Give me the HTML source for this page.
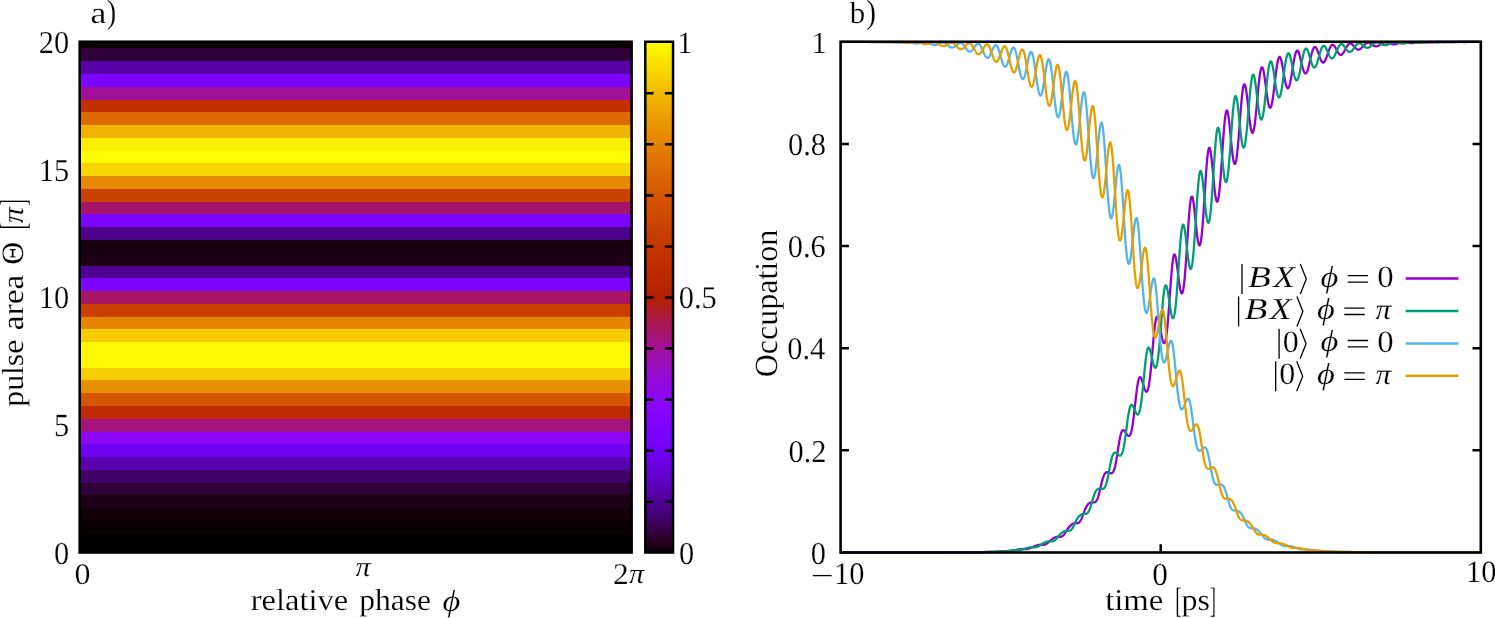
<!DOCTYPE html>
<html><head><meta charset="utf-8"><title>fig</title>
<style>html,body{margin:0;padding:0;background:#fff}svg{display:block}text{font-family:"Liberation Serif",serif;fill:#000;text-rendering:geometricPrecision;stroke:#fff;stroke-width:0.2px}</style></head><body>
<svg width="1495" height="618" viewBox="0 0 1495 618" style="will-change:transform">
<rect width="1495" height="618" fill="#fff"/>
<g shape-rendering="crispEdges">
<rect x="79.70" y="546.12" width="551.90" height="6.68" fill="#000000"/>
<rect x="79.70" y="533.35" width="551.90" height="13.07" fill="#030000"/>
<rect x="79.70" y="520.58" width="551.90" height="13.07" fill="#080001"/>
<rect x="79.70" y="507.81" width="551.90" height="13.07" fill="#110007"/>
<rect x="79.70" y="495.04" width="551.90" height="13.07" fill="#1e0016"/>
<rect x="79.70" y="482.27" width="551.90" height="13.07" fill="#2f0035"/>
<rect x="79.70" y="469.50" width="551.90" height="13.07" fill="#420069"/>
<rect x="79.70" y="456.73" width="551.90" height="13.07" fill="#5900af"/>
<rect x="79.70" y="443.97" width="551.90" height="13.07" fill="#7102f1"/>
<rect x="79.70" y="431.20" width="551.90" height="13.07" fill="#8b07f5"/>
<rect x="79.70" y="418.43" width="551.90" height="13.07" fill="#a5137f"/>
<rect x="79.70" y="405.66" width="551.90" height="13.07" fill="#be2b00"/>
<rect x="79.70" y="392.89" width="551.90" height="13.07" fill="#d55600"/>
<rect x="79.70" y="380.12" width="551.90" height="13.07" fill="#e89100"/>
<rect x="79.70" y="367.35" width="551.90" height="13.07" fill="#f6ce00"/>
<rect x="79.70" y="354.58" width="551.90" height="13.07" fill="#fef800"/>
<rect x="79.70" y="341.82" width="551.90" height="13.07" fill="#fef900"/>
<rect x="79.70" y="329.05" width="551.90" height="13.07" fill="#f6cc00"/>
<rect x="79.70" y="316.28" width="551.90" height="13.07" fill="#e58400"/>
<rect x="79.70" y="303.51" width="551.90" height="13.07" fill="#cb4000"/>
<rect x="79.70" y="290.74" width="551.90" height="13.07" fill="#a81565"/>
<rect x="79.70" y="277.97" width="551.90" height="13.07" fill="#7f04ff"/>
<rect x="79.70" y="265.20" width="551.90" height="13.07" fill="#4f0092"/>
<rect x="79.70" y="252.43" width="551.90" height="13.07" fill="#1c0014"/>
<rect x="79.70" y="239.67" width="551.90" height="13.07" fill="#18000f"/>
<rect x="79.70" y="226.90" width="551.90" height="13.07" fill="#4c0087"/>
<rect x="79.70" y="214.13" width="551.90" height="13.07" fill="#7c03fe"/>
<rect x="79.70" y="201.36" width="551.90" height="13.07" fill="#a7146c"/>
<rect x="79.70" y="188.59" width="551.90" height="13.07" fill="#cb4100"/>
<rect x="79.70" y="175.82" width="551.90" height="13.07" fill="#e68900"/>
<rect x="79.70" y="163.05" width="551.90" height="13.07" fill="#f7d500"/>
<rect x="79.70" y="150.28" width="551.90" height="13.07" fill="#fffd00"/>
<rect x="79.70" y="137.52" width="551.90" height="13.07" fill="#fcee00"/>
<rect x="79.70" y="124.75" width="551.90" height="13.07" fill="#f0b300"/>
<rect x="79.70" y="111.98" width="551.90" height="13.07" fill="#dc6a00"/>
<rect x="79.70" y="99.21" width="551.90" height="13.07" fill="#c13000"/>
<rect x="79.70" y="86.44" width="551.90" height="13.07" fill="#a11098"/>
<rect x="79.70" y="73.67" width="551.90" height="13.07" fill="#7d04fe"/>
<rect x="79.70" y="60.90" width="551.90" height="13.07" fill="#5700a9"/>
<rect x="79.70" y="48.13" width="551.90" height="13.07" fill="#300038"/>
<rect x="79.70" y="41.75" width="551.90" height="6.68" fill="#0a0002"/>
</g>
<rect x="79.7" y="41.75" width="551.9" height="510.75" fill="none" stroke="#000" stroke-width="2.6"/>
<defs><linearGradient id="cb" x1="0" y1="1" x2="0" y2="0">
<stop offset="0.000" stop-color="#000000"/>
<stop offset="0.010" stop-color="#1a0010"/>
<stop offset="0.020" stop-color="#240020"/>
<stop offset="0.030" stop-color="#2c0030"/>
<stop offset="0.040" stop-color="#33003f"/>
<stop offset="0.050" stop-color="#39004f"/>
<stop offset="0.060" stop-color="#3e005e"/>
<stop offset="0.070" stop-color="#43006d"/>
<stop offset="0.080" stop-color="#48007b"/>
<stop offset="0.090" stop-color="#4c0089"/>
<stop offset="0.100" stop-color="#510096"/>
<stop offset="0.110" stop-color="#5500a3"/>
<stop offset="0.120" stop-color="#5800af"/>
<stop offset="0.130" stop-color="#5c01ba"/>
<stop offset="0.140" stop-color="#5f01c4"/>
<stop offset="0.150" stop-color="#6301ce"/>
<stop offset="0.160" stop-color="#6601d7"/>
<stop offset="0.170" stop-color="#6901df"/>
<stop offset="0.180" stop-color="#6c01e7"/>
<stop offset="0.190" stop-color="#6f02ed"/>
<stop offset="0.200" stop-color="#7202f3"/>
<stop offset="0.210" stop-color="#7502f7"/>
<stop offset="0.220" stop-color="#7803fa"/>
<stop offset="0.230" stop-color="#7a03fd"/>
<stop offset="0.240" stop-color="#7d04fe"/>
<stop offset="0.250" stop-color="#8004ff"/>
<stop offset="0.260" stop-color="#8204fe"/>
<stop offset="0.270" stop-color="#8505fd"/>
<stop offset="0.280" stop-color="#8706fa"/>
<stop offset="0.290" stop-color="#8906f7"/>
<stop offset="0.300" stop-color="#8c07f3"/>
<stop offset="0.310" stop-color="#8e08ed"/>
<stop offset="0.320" stop-color="#9008e7"/>
<stop offset="0.330" stop-color="#9209df"/>
<stop offset="0.340" stop-color="#950ad7"/>
<stop offset="0.350" stop-color="#970bce"/>
<stop offset="0.360" stop-color="#990cc4"/>
<stop offset="0.370" stop-color="#9b0dba"/>
<stop offset="0.380" stop-color="#9d0eaf"/>
<stop offset="0.390" stop-color="#9f0fa3"/>
<stop offset="0.400" stop-color="#a11096"/>
<stop offset="0.410" stop-color="#a31289"/>
<stop offset="0.420" stop-color="#a5137b"/>
<stop offset="0.430" stop-color="#a7146d"/>
<stop offset="0.440" stop-color="#a9165e"/>
<stop offset="0.450" stop-color="#ab174f"/>
<stop offset="0.460" stop-color="#ad193f"/>
<stop offset="0.470" stop-color="#af1a30"/>
<stop offset="0.480" stop-color="#b11c20"/>
<stop offset="0.490" stop-color="#b21e10"/>
<stop offset="0.500" stop-color="#b42000"/>
<stop offset="0.510" stop-color="#b62200"/>
<stop offset="0.520" stop-color="#b82400"/>
<stop offset="0.530" stop-color="#ba2600"/>
<stop offset="0.540" stop-color="#bb2800"/>
<stop offset="0.550" stop-color="#bd2a00"/>
<stop offset="0.560" stop-color="#bf2d00"/>
<stop offset="0.570" stop-color="#c12f00"/>
<stop offset="0.580" stop-color="#c23200"/>
<stop offset="0.590" stop-color="#c43400"/>
<stop offset="0.600" stop-color="#c63700"/>
<stop offset="0.610" stop-color="#c73a00"/>
<stop offset="0.620" stop-color="#c93d00"/>
<stop offset="0.630" stop-color="#ca4000"/>
<stop offset="0.640" stop-color="#cc4300"/>
<stop offset="0.650" stop-color="#ce4600"/>
<stop offset="0.660" stop-color="#cf4900"/>
<stop offset="0.670" stop-color="#d14d00"/>
<stop offset="0.680" stop-color="#d25000"/>
<stop offset="0.690" stop-color="#d45400"/>
<stop offset="0.700" stop-color="#d55700"/>
<stop offset="0.710" stop-color="#d75b00"/>
<stop offset="0.720" stop-color="#d85f00"/>
<stop offset="0.730" stop-color="#da6300"/>
<stop offset="0.740" stop-color="#db6700"/>
<stop offset="0.750" stop-color="#dd6c00"/>
<stop offset="0.760" stop-color="#de7000"/>
<stop offset="0.770" stop-color="#e07400"/>
<stop offset="0.780" stop-color="#e17900"/>
<stop offset="0.790" stop-color="#e37e00"/>
<stop offset="0.800" stop-color="#e48300"/>
<stop offset="0.810" stop-color="#e68800"/>
<stop offset="0.820" stop-color="#e78d00"/>
<stop offset="0.830" stop-color="#e89200"/>
<stop offset="0.840" stop-color="#ea9700"/>
<stop offset="0.850" stop-color="#eb9d00"/>
<stop offset="0.860" stop-color="#eca200"/>
<stop offset="0.870" stop-color="#eea800"/>
<stop offset="0.880" stop-color="#efae00"/>
<stop offset="0.890" stop-color="#f1b400"/>
<stop offset="0.900" stop-color="#f2ba00"/>
<stop offset="0.910" stop-color="#f3c000"/>
<stop offset="0.920" stop-color="#f5c700"/>
<stop offset="0.930" stop-color="#f6cd00"/>
<stop offset="0.940" stop-color="#f7d400"/>
<stop offset="0.950" stop-color="#f9db00"/>
<stop offset="0.960" stop-color="#fae200"/>
<stop offset="0.970" stop-color="#fbe900"/>
<stop offset="0.980" stop-color="#fcf000"/>
<stop offset="0.990" stop-color="#fef700"/>
<stop offset="1.000" stop-color="#ffff00"/>
</linearGradient></defs>
<rect x="645.3" y="41.75" width="27.75" height="510.75" fill="url(#cb)" stroke="#000" stroke-width="2.5"/>
<path d="M645.3 501.82h8.2M673.05 501.82h-8.2" stroke="#000" stroke-width="2.5" fill="none"/>
<path d="M645.3 450.75h8.2M673.05 450.75h-8.2" stroke="#000" stroke-width="2.5" fill="none"/>
<path d="M645.3 399.67h8.2M673.05 399.67h-8.2" stroke="#000" stroke-width="2.5" fill="none"/>
<path d="M645.3 348.60h8.2M673.05 348.60h-8.2" stroke="#000" stroke-width="2.5" fill="none"/>
<path d="M645.3 297.52h8.2M673.05 297.52h-8.2" stroke="#000" stroke-width="2.5" fill="none"/>
<path d="M645.3 246.45h8.2M673.05 246.45h-8.2" stroke="#000" stroke-width="2.5" fill="none"/>
<path d="M645.3 195.38h8.2M673.05 195.38h-8.2" stroke="#000" stroke-width="2.5" fill="none"/>
<path d="M645.3 144.30h8.2M673.05 144.30h-8.2" stroke="#000" stroke-width="2.5" fill="none"/>
<path d="M645.3 93.22h8.2M673.05 93.22h-8.2" stroke="#000" stroke-width="2.5" fill="none"/>
<text transform="translate(54.00 563.79) scale(1.0000 1.0488)" font-size="30.4">0</text>
<text transform="translate(54.00 436.09) scale(1.0000 1.0644)" font-size="30.4">5</text>
<text transform="translate(38.80 308.41) scale(1.0000 1.0488)" font-size="30.4">10</text>
<text transform="translate(38.80 180.72) scale(1.0000 1.0539)" font-size="30.4">15</text>
<text transform="translate(38.80 53.04) scale(1.0000 1.0488)" font-size="30.4">20</text>
<text transform="translate(74.53 583.60) scale(1.0547 0.9854)" font-size="30.4">0</text>
<text transform="translate(355.60 576.13) scale(1.0000 0.9161)" font-size="30.4" font-style="italic">π</text>
<text transform="translate(612.96 583.60) scale(1.0328 0.9900)" font-size="30.4">2</text>
<text transform="translate(629.00 583.42) scale(1.0064 0.9371)" font-size="30.4" font-style="italic">π</text>
<text transform="translate(250.76 610.00) scale(1.0682 1.0000)" font-size="30.4">relative</text>
<text transform="translate(359.28 610.00) scale(1.0369 1.0000)" font-size="30.4">phase</text>
<text transform="translate(442.41 610.63) scale(1.1329 1.0109)" font-size="30.4" font-style="italic">ϕ</text>
<text transform="translate(90.50 22.80) scale(1.1833 1.0000)" font-size="30.4">a</text>
<text transform="translate(106.86 22.95) scale(0.9359 1.1018)" font-size="30.4">)</text>
<text transform="translate(677.30 52.85) scale(1.0000 1.0149)" font-size="30.4">1</text>
<text transform="translate(678.80 308.31) scale(1.0000 1.0437)" font-size="30.4">0.5</text>
<text transform="translate(679.00 563.79) scale(1.0000 1.0488)" font-size="30.4">0</text>
<text transform="translate(23.30 406.20) rotate(-90) translate(-0.52 0) scale(1.0447 1.0000)" font-size="30.4">pulse</text>
<text transform="translate(23.30 329.00) rotate(-90) translate(-1.21 0) scale(1.0998 1.0000)" font-size="30.4">area</text>
<text transform="translate(23.19 263.50) rotate(-90) translate(-1.26 0) scale(1.0462 1.0245)" font-size="30.4">Θ</text>
<text transform="translate(25.05 228.00) rotate(-90) translate(-1.58 0) scale(0.6866 1.2063)" font-size="30.4">[</text>
<text transform="translate(23.30 223.00) rotate(-90) translate(-0.21 0) scale(1.0701 1.0000)" font-size="30.4" font-style="italic">π</text>
<text transform="translate(25.05 205.00) rotate(-90) translate(-0.74 0) scale(0.6765 1.2063)" font-size="30.4">]</text>
<g fill="none" stroke-width="2.3" stroke-linejoin="round" stroke-linecap="butt">
<path d="M840.60 552.50L840.92 552.50L841.24 552.50L841.56 552.50L841.88 552.50L842.20 552.50L842.52 552.50L842.84 552.50L843.16 552.50L843.48 552.50L843.80 552.50L844.12 552.50L844.44 552.50L844.76 552.50L845.08 552.50L845.40 552.50L845.72 552.50L846.04 552.50L846.36 552.50L846.68 552.50L847.00 552.50L847.32 552.50L847.64 552.50L847.96 552.50L848.28 552.50L848.60 552.50L848.92 552.50L849.24 552.50L849.56 552.50L849.88 552.50L850.20 552.50L850.52 552.50L850.84 552.50L851.16 552.50L851.48 552.50L851.80 552.50L852.12 552.50L852.44 552.50L852.76 552.50L853.08 552.50L853.40 552.50L853.72 552.50L854.04 552.50L854.36 552.50L854.68 552.50L855.00 552.50L855.32 552.50L855.64 552.50L855.96 552.50L856.28 552.50L856.61 552.50L856.93 552.50L857.25 552.50L857.57 552.50L857.89 552.50L858.21 552.50L858.53 552.50L858.85 552.50L859.17 552.50L859.49 552.50L859.81 552.50L860.13 552.50L860.45 552.50L860.77 552.50L861.09 552.50L861.41 552.50L861.73 552.50L862.05 552.50L862.37 552.50L862.69 552.50L863.01 552.50L863.33 552.50L863.65 552.50L863.97 552.50L864.29 552.50L864.61 552.50L864.93 552.50L865.25 552.50L865.57 552.50L865.89 552.50L866.21 552.50L866.53 552.50L866.85 552.50L867.17 552.50L867.49 552.50L867.81 552.50L868.13 552.50L868.45 552.50L868.77 552.50L869.09 552.50L869.41 552.50L869.73 552.50L870.05 552.50L870.37 552.50L870.69 552.50L871.01 552.50L871.33 552.50L871.65 552.50L871.97 552.50L872.29 552.50L872.61 552.50L872.93 552.50L873.25 552.50L873.57 552.50L873.89 552.50L874.21 552.50L874.53 552.50L874.85 552.50L875.17 552.50L875.49 552.50L875.81 552.50L876.13 552.50L876.45 552.50L876.77 552.50L877.09 552.50L877.41 552.50L877.73 552.50L878.05 552.50L878.37 552.50L878.69 552.50L879.01 552.50L879.33 552.50L879.65 552.50L879.97 552.50L880.29 552.50L880.61 552.50L880.93 552.50L881.25 552.50L881.57 552.50L881.89 552.50L882.21 552.50L882.53 552.50L882.85 552.50L883.17 552.50L883.49 552.50L883.81 552.50L884.13 552.50L884.45 552.50L884.77 552.50L885.09 552.50L885.41 552.50L885.73 552.50L886.05 552.50L886.37 552.50L886.69 552.50L887.01 552.50L887.33 552.50L887.65 552.50L887.97 552.50L888.29 552.50L888.62 552.50L888.94 552.50L889.26 552.50L889.58 552.50L889.90 552.50L890.22 552.50L890.54 552.50L890.86 552.50L891.18 552.50L891.50 552.50L891.82 552.50L892.14 552.50L892.46 552.50L892.78 552.50L893.10 552.50L893.42 552.50L893.74 552.50L894.06 552.50L894.38 552.50L894.70 552.50L895.02 552.50L895.34 552.50L895.66 552.50L895.98 552.50L896.30 552.50L896.62 552.50L896.94 552.50L897.26 552.50L897.58 552.50L897.90 552.50L898.22 552.50L898.54 552.50L898.86 552.50L899.18 552.50L899.50 552.50L899.82 552.50L900.14 552.50L900.46 552.50L900.78 552.50L901.10 552.50L901.42 552.50L901.74 552.50L902.06 552.50L902.38 552.50L902.70 552.50L903.02 552.50L903.34 552.50L903.66 552.50L903.98 552.50L904.30 552.50L904.62 552.50L904.94 552.50L905.26 552.50L905.58 552.50L905.90 552.50L906.22 552.50L906.54 552.50L906.86 552.50L907.18 552.50L907.50 552.50L907.82 552.50L908.14 552.50L908.46 552.50L908.78 552.50L909.10 552.50L909.42 552.50L909.74 552.50L910.06 552.50L910.38 552.50L910.70 552.50L911.02 552.50L911.34 552.50L911.66 552.50L911.98 552.50L912.30 552.50L912.62 552.50L912.94 552.50L913.26 552.50L913.58 552.50L913.90 552.50L914.22 552.50L914.54 552.50L914.86 552.50L915.18 552.50L915.50 552.50L915.82 552.50L916.14 552.50L916.46 552.50L916.78 552.50L917.10 552.50L917.42 552.50L917.74 552.50L918.06 552.50L918.38 552.50L918.70 552.50L919.02 552.50L919.34 552.50L919.66 552.50L919.98 552.50L920.30 552.50L920.62 552.50L920.95 552.50L921.27 552.50L921.59 552.50L921.91 552.50L922.23 552.50L922.55 552.50L922.87 552.50L923.19 552.50L923.51 552.50L923.83 552.50L924.15 552.49L924.47 552.49L924.79 552.49L925.11 552.49L925.43 552.49L925.75 552.49L926.07 552.49L926.39 552.49L926.71 552.49L927.03 552.49L927.35 552.49L927.67 552.49L927.99 552.49L928.31 552.49L928.63 552.49L928.95 552.49L929.27 552.49L929.59 552.49L929.91 552.49L930.23 552.49L930.55 552.49L930.87 552.49L931.19 552.49L931.51 552.49L931.83 552.49L932.15 552.49L932.47 552.49L932.79 552.48L933.11 552.48L933.43 552.48L933.75 552.48L934.07 552.48L934.39 552.48L934.71 552.48L935.03 552.48L935.35 552.48L935.67 552.48L935.99 552.48L936.31 552.48L936.63 552.48L936.95 552.49L937.27 552.49L937.59 552.49L937.91 552.49L938.23 552.49L938.55 552.49L938.87 552.49L939.19 552.49L939.51 552.48L939.83 552.48L940.15 552.48L940.47 552.48L940.79 552.48L941.11 552.48L941.43 552.48L941.75 552.48L942.07 552.48L942.39 552.48L942.71 552.48L943.03 552.48L943.35 552.48L943.67 552.47L943.99 552.47L944.31 552.47L944.63 552.47L944.95 552.47L945.27 552.47L945.59 552.47L945.91 552.47L946.23 552.46L946.55 552.46L946.87 552.46L947.19 552.46L947.51 552.46L947.83 552.46L948.15 552.46L948.47 552.45L948.79 552.45L949.11 552.45L949.43 552.45L949.75 552.45L950.07 552.45L950.39 552.45L950.71 552.45L951.03 552.44L951.35 552.44L951.67 552.44L951.99 552.44L952.31 552.44L952.63 552.44L952.96 552.44L953.28 552.44L953.60 552.45L953.92 552.45L954.24 552.45L954.56 552.45L954.88 552.45L955.20 552.45L955.52 552.45L955.84 552.45L956.16 552.45L956.48 552.45L956.80 552.45L957.12 552.45L957.44 552.44L957.76 552.44L958.08 552.44L958.40 552.44L958.72 552.44L959.04 552.44L959.36 552.43L959.68 552.43L960.00 552.43L960.32 552.42L960.64 552.42L960.96 552.42L961.28 552.41L961.60 552.41L961.92 552.40L962.24 552.40L962.56 552.40L962.88 552.39L963.20 552.39L963.52 552.38L963.84 552.38L964.16 552.38L964.48 552.37L964.80 552.37L965.12 552.36L965.44 552.36L965.76 552.35L966.08 552.35L966.40 552.34L966.72 552.34L967.04 552.34L967.36 552.33L967.68 552.33L968.00 552.33L968.32 552.32L968.64 552.32L968.96 552.32L969.28 552.32L969.60 552.32L969.92 552.32L970.24 552.32L970.56 552.32L970.88 552.32L971.20 552.32L971.52 552.32L971.84 552.33L972.16 552.33L972.48 552.33L972.80 552.33L973.12 552.33L973.44 552.33L973.76 552.33L974.08 552.33L974.40 552.33L974.72 552.32L975.04 552.32L975.36 552.32L975.68 552.31L976.00 552.31L976.32 552.30L976.64 552.29L976.96 552.28L977.28 552.28L977.60 552.27L977.92 552.26L978.24 552.25L978.56 552.24L978.88 552.23L979.20 552.22L979.52 552.20L979.84 552.19L980.16 552.18L980.48 552.17L980.80 552.16L981.12 552.15L981.44 552.13L981.76 552.12L982.08 552.11L982.40 552.10L982.72 552.08L983.04 552.07L983.36 552.06L983.68 552.05L984.00 552.04L984.32 552.03L984.64 552.02L984.97 552.01L985.29 552.00L985.61 551.99L985.93 551.98L986.25 551.98L986.57 551.97L986.89 551.97L987.21 551.97L987.53 551.97L987.85 551.97L988.17 551.97L988.49 551.97L988.81 551.98L989.13 551.98L989.45 551.98L989.77 551.99L990.09 551.99L990.41 551.99L990.73 551.99L991.05 551.99L991.37 551.99L991.69 551.99L992.01 551.98L992.33 551.98L992.65 551.97L992.97 551.96L993.29 551.94L993.61 551.93L993.93 551.91L994.25 551.89L994.57 551.87L994.89 551.85L995.21 551.82L995.53 551.80L995.85 551.77L996.17 551.74L996.49 551.71L996.81 551.68L997.13 551.66L997.45 551.63L997.77 551.60L998.09 551.57L998.41 551.54L998.73 551.51L999.05 551.48L999.37 551.45L999.69 551.41L1000.01 551.38L1000.33 551.35L1000.65 551.32L1000.97 551.30L1001.29 551.27L1001.61 551.24L1001.93 551.21L1002.25 551.19L1002.57 551.17L1002.89 551.15L1003.21 551.13L1003.53 551.11L1003.85 551.10L1004.17 551.09L1004.49 551.08L1004.81 551.08L1005.13 551.08L1005.45 551.08L1005.77 551.08L1006.09 551.09L1006.41 551.09L1006.73 551.10L1007.05 551.11L1007.37 551.11L1007.69 551.12L1008.01 551.12L1008.33 551.12L1008.65 551.12L1008.97 551.12L1009.29 551.11L1009.61 551.09L1009.93 551.08L1010.25 551.05L1010.57 551.02L1010.89 550.99L1011.21 550.95L1011.53 550.91L1011.85 550.86L1012.17 550.81L1012.49 550.75L1012.81 550.69L1013.13 550.63L1013.45 550.56L1013.77 550.50L1014.09 550.43L1014.41 550.36L1014.73 550.29L1015.05 550.23L1015.37 550.16L1015.69 550.09L1016.01 550.02L1016.33 549.95L1016.65 549.88L1016.98 549.81L1017.30 549.75L1017.62 549.68L1017.94 549.61L1018.26 549.55L1018.58 549.49L1018.90 549.43L1019.22 549.37L1019.54 549.31L1019.86 549.26L1020.18 549.21L1020.50 549.17L1020.82 549.13L1021.14 549.10L1021.46 549.07L1021.78 549.05L1022.10 549.03L1022.42 549.03L1022.74 549.02L1023.06 549.02L1023.38 549.03L1023.70 549.04L1024.02 549.05L1024.34 549.06L1024.66 549.07L1024.98 549.08L1025.30 549.09L1025.62 549.10L1025.94 549.10L1026.26 549.09L1026.58 549.07L1026.90 549.04L1027.22 549.01L1027.54 548.96L1027.86 548.90L1028.18 548.84L1028.50 548.76L1028.82 548.67L1029.14 548.57L1029.46 548.46L1029.78 548.34L1030.10 548.21L1030.42 548.08L1030.74 547.95L1031.06 547.80L1031.38 547.66L1031.70 547.52L1032.02 547.37L1032.34 547.22L1032.66 547.08L1032.98 546.93L1033.30 546.79L1033.62 546.65L1033.94 546.51L1034.26 546.37L1034.58 546.24L1034.90 546.10L1035.22 545.97L1035.54 545.85L1035.86 545.73L1036.18 545.61L1036.50 545.49L1036.82 545.39L1037.14 545.28L1037.46 545.19L1037.78 545.10L1038.10 545.02L1038.42 544.96L1038.74 544.90L1039.06 544.85L1039.38 544.81L1039.70 544.78L1040.02 544.76L1040.34 544.76L1040.66 544.76L1040.98 544.76L1041.30 544.78L1041.62 544.79L1041.94 544.81L1042.26 544.83L1042.58 544.84L1042.90 544.84L1043.22 544.84L1043.54 544.82L1043.86 544.79L1044.18 544.74L1044.50 544.67L1044.82 544.58L1045.14 544.48L1045.46 544.35L1045.78 544.20L1046.10 544.02L1046.42 543.83L1046.74 543.62L1047.06 543.39L1047.38 543.15L1047.70 542.89L1048.02 542.62L1048.34 542.34L1048.66 542.06L1048.99 541.78L1049.31 541.49L1049.63 541.21L1049.95 540.92L1050.27 540.65L1050.59 540.37L1050.91 540.11L1051.23 539.85L1051.55 539.60L1051.87 539.35L1052.19 539.12L1052.51 538.89L1052.83 538.67L1053.15 538.46L1053.47 538.26L1053.79 538.07L1054.11 537.89L1054.43 537.72L1054.75 537.56L1055.07 537.41L1055.39 537.28L1055.71 537.16L1056.03 537.06L1056.35 536.97L1056.67 536.90L1056.99 536.84L1057.31 536.80L1057.63 536.78L1057.95 536.77L1058.27 536.77L1058.59 536.77L1058.91 536.78L1059.23 536.80L1059.55 536.81L1059.87 536.82L1060.19 536.81L1060.51 536.79L1060.83 536.75L1061.15 536.68L1061.47 536.59L1061.79 536.46L1062.11 536.30L1062.43 536.11L1062.75 535.87L1063.07 535.60L1063.39 535.29L1063.71 534.94L1064.03 534.55L1064.35 534.14L1064.67 533.69L1064.99 533.23L1065.31 532.74L1065.63 532.23L1065.95 531.72L1066.27 531.21L1066.59 530.69L1066.91 530.18L1067.23 529.67L1067.55 529.18L1067.87 528.70L1068.19 528.24L1068.51 527.80L1068.83 527.38L1069.15 526.98L1069.47 526.60L1069.79 526.25L1070.11 525.91L1070.43 525.59L1070.75 525.30L1071.07 525.02L1071.39 524.76L1071.71 524.53L1072.03 524.31L1072.35 524.11L1072.67 523.93L1072.99 523.77L1073.31 523.64L1073.63 523.52L1073.95 523.42L1074.27 523.35L1074.59 523.29L1074.91 523.25L1075.23 523.23L1075.55 523.22L1075.87 523.22L1076.19 523.22L1076.51 523.22L1076.83 523.22L1077.15 523.20L1077.47 523.16L1077.79 523.10L1078.11 523.01L1078.43 522.87L1078.75 522.69L1079.07 522.46L1079.39 522.17L1079.71 521.82L1080.03 521.41L1080.35 520.94L1080.67 520.40L1081.00 519.80L1081.32 519.15L1081.64 518.44L1081.96 517.68L1082.28 516.88L1082.60 516.05L1082.92 515.19L1083.24 514.32L1083.56 513.45L1083.88 512.57L1084.20 511.71L1084.52 510.88L1084.84 510.06L1085.16 509.29L1085.48 508.55L1085.80 507.85L1086.12 507.20L1086.44 506.60L1086.76 506.05L1087.08 505.54L1087.40 505.08L1087.72 504.66L1088.04 504.29L1088.36 503.96L1088.68 503.67L1089.00 503.41L1089.32 503.19L1089.64 503.00L1089.96 502.83L1090.28 502.70L1090.60 502.59L1090.92 502.51L1091.24 502.45L1091.56 502.41L1091.88 502.38L1092.20 502.38L1092.52 502.38L1092.84 502.39L1093.16 502.40L1093.48 502.41L1093.80 502.40L1094.12 502.37L1094.44 502.32L1094.76 502.23L1095.08 502.09L1095.40 501.90L1095.72 501.65L1096.04 501.32L1096.36 500.91L1096.68 500.42L1097.00 499.83L1097.32 499.15L1097.64 498.36L1097.96 497.49L1098.28 496.51L1098.60 495.45L1098.92 494.30L1099.24 493.08L1099.56 491.80L1099.88 490.47L1100.20 489.11L1100.52 487.72L1100.84 486.33L1101.16 484.95L1101.48 483.59L1101.80 482.28L1102.12 481.02L1102.44 479.83L1102.76 478.71L1103.08 477.68L1103.40 476.73L1103.72 475.88L1104.04 475.13L1104.36 474.47L1104.68 473.90L1105.00 473.43L1105.32 473.04L1105.64 472.73L1105.96 472.49L1106.28 472.32L1106.60 472.21L1106.92 472.15L1107.24 472.14L1107.56 472.17L1107.88 472.23L1108.20 472.32L1108.52 472.43L1108.84 472.55L1109.16 472.69L1109.48 472.82L1109.80 472.95L1110.12 473.07L1110.44 473.18L1110.76 473.25L1111.08 473.28L1111.40 473.27L1111.72 473.20L1112.04 473.05L1112.36 472.83L1112.68 472.52L1113.01 472.10L1113.33 471.57L1113.65 470.91L1113.97 470.13L1114.29 469.21L1114.61 468.15L1114.93 466.94L1115.25 465.59L1115.57 464.11L1115.89 462.49L1116.21 460.76L1116.53 458.92L1116.85 456.99L1117.17 454.99L1117.49 452.94L1117.81 450.86L1118.13 448.78L1118.45 446.72L1118.77 444.71L1119.09 442.77L1119.41 440.91L1119.73 439.17L1120.05 437.56L1120.37 436.09L1120.69 434.78L1121.01 433.63L1121.33 432.65L1121.65 431.83L1121.97 431.18L1122.29 430.69L1122.61 430.36L1122.93 430.17L1123.25 430.11L1123.57 430.16L1123.89 430.33L1124.21 430.58L1124.53 430.91L1124.85 431.30L1125.17 431.74L1125.49 432.21L1125.81 432.70L1126.13 433.20L1126.45 433.69L1126.77 434.16L1127.09 434.60L1127.41 435.00L1127.73 435.34L1128.05 435.62L1128.37 435.81L1128.69 435.91L1129.01 435.90L1129.33 435.77L1129.65 435.51L1129.97 435.09L1130.29 434.52L1130.61 433.78L1130.93 432.86L1131.25 431.74L1131.57 430.43L1131.89 428.93L1132.21 427.22L1132.53 425.31L1132.85 423.22L1133.17 420.95L1133.49 418.51L1133.81 415.93L1134.13 413.22L1134.45 410.42L1134.77 407.55L1135.09 404.64L1135.41 401.73L1135.73 398.85L1136.05 396.04L1136.37 393.33L1136.69 390.75L1137.01 388.34L1137.33 386.12L1137.65 384.12L1137.97 382.35L1138.29 380.83L1138.61 379.57L1138.93 378.57L1139.25 377.83L1139.57 377.35L1139.89 377.11L1140.21 377.10L1140.53 377.31L1140.85 377.72L1141.17 378.29L1141.49 379.02L1141.81 379.87L1142.13 380.82L1142.45 381.84L1142.77 382.92L1143.09 384.02L1143.41 385.12L1143.73 386.20L1144.05 387.24L1144.37 388.22L1144.69 389.11L1145.02 389.91L1145.34 390.58L1145.66 391.12L1145.98 391.50L1146.30 391.71L1146.62 391.73L1146.94 391.54L1147.26 391.14L1147.58 390.51L1147.90 389.63L1148.22 388.51L1148.54 387.12L1148.86 385.47L1149.18 383.55L1149.50 381.36L1149.82 378.91L1150.14 376.22L1150.46 373.29L1150.78 370.14L1151.10 366.80L1151.42 363.30L1151.74 359.67L1152.06 355.95L1152.38 352.17L1152.70 348.39L1153.02 344.64L1153.34 340.97L1153.66 337.43L1153.98 334.06L1154.30 330.90L1154.62 328.00L1154.94 325.38L1155.26 323.07L1155.58 321.10L1155.90 319.49L1156.22 318.23L1156.54 317.35L1156.86 316.82L1157.18 316.65L1157.50 316.81L1157.82 317.29L1158.14 318.05L1158.46 319.08L1158.78 320.33L1159.10 321.77L1159.42 323.37L1159.74 325.09L1160.06 326.90L1160.38 328.75L1160.70 330.61L1161.02 332.45L1161.34 334.23L1161.66 335.93L1161.98 337.51L1162.30 338.95L1162.62 340.22L1162.94 341.29L1163.26 342.15L1163.58 342.77L1163.90 343.13L1164.22 343.21L1164.54 343.00L1164.86 342.49L1165.18 341.65L1165.50 340.49L1165.82 338.99L1166.14 337.16L1166.46 334.99L1166.78 332.48L1167.10 329.66L1167.42 326.52L1167.74 323.08L1168.06 319.38L1168.38 315.44L1168.70 311.29L1169.02 306.97L1169.34 302.53L1169.66 298.01L1169.98 293.47L1170.30 288.95L1170.62 284.51L1170.94 280.21L1171.26 276.11L1171.58 272.24L1171.90 268.66L1172.22 265.42L1172.54 262.55L1172.86 260.09L1173.18 258.05L1173.50 256.46L1173.82 255.33L1174.14 254.65L1174.46 254.42L1174.78 254.63L1175.10 255.25L1175.42 256.25L1175.74 257.60L1176.06 259.27L1176.38 261.21L1176.70 263.37L1177.03 265.72L1177.35 268.20L1177.67 270.76L1177.99 273.37L1178.31 275.97L1178.63 278.52L1178.95 280.99L1179.27 283.32L1179.59 285.49L1179.91 287.45L1180.23 289.18L1180.55 290.65L1180.87 291.82L1181.19 292.69L1181.51 293.22L1181.83 293.39L1182.15 293.20L1182.47 292.62L1182.79 291.65L1183.11 290.29L1183.43 288.53L1183.75 286.37L1184.07 283.82L1184.39 280.89L1184.71 277.59L1185.03 273.96L1185.35 270.00L1185.67 265.76L1185.99 261.28L1186.31 256.58L1186.63 251.73L1186.95 246.77L1187.27 241.76L1187.59 236.75L1187.91 231.80L1188.23 226.98L1188.55 222.34L1188.87 217.95L1189.19 213.85L1189.51 210.10L1189.83 206.74L1190.15 203.82L1190.47 201.37L1190.79 199.40L1191.11 197.95L1191.43 197.00L1191.75 196.57L1192.07 196.65L1192.39 197.21L1192.71 198.22L1193.03 199.67L1193.35 201.50L1193.67 203.68L1193.99 206.15L1194.31 208.87L1194.63 211.78L1194.95 214.83L1195.27 217.97L1195.59 221.14L1195.91 224.29L1196.23 227.37L1196.55 230.34L1196.87 233.14L1197.19 235.74L1197.51 238.10L1197.83 240.18L1198.15 241.94L1198.47 243.37L1198.79 244.44L1199.11 245.12L1199.43 245.40L1199.75 245.26L1200.07 244.69L1200.39 243.69L1200.71 242.25L1201.03 240.38L1201.35 238.09L1201.67 235.38L1201.99 232.27L1202.31 228.79L1202.63 224.96L1202.95 220.81L1203.27 216.38L1203.59 211.71L1203.91 206.86L1204.23 201.86L1204.55 196.77L1204.87 191.66L1205.19 186.58L1205.51 181.59L1205.83 176.76L1206.15 172.13L1206.47 167.78L1206.79 163.75L1207.11 160.10L1207.43 156.86L1207.75 154.08L1208.07 151.79L1208.39 150.00L1208.71 148.74L1209.04 148.01L1209.36 147.80L1209.68 148.10L1210.00 148.90L1210.32 150.17L1210.64 151.87L1210.96 153.96L1211.28 156.40L1211.60 159.14L1211.92 162.12L1212.24 165.30L1212.56 168.62L1212.88 172.01L1213.20 175.43L1213.52 178.83L1213.84 182.14L1214.16 185.33L1214.48 188.34L1214.80 191.14L1215.12 193.67L1215.44 195.92L1215.76 197.83L1216.08 199.39L1216.40 200.57L1216.72 201.35L1217.04 201.72L1217.36 201.65L1217.68 201.16L1218.00 200.22L1218.32 198.85L1218.64 197.05L1218.96 194.82L1219.28 192.19L1219.60 189.18L1219.92 185.81L1220.24 182.10L1220.56 178.11L1220.88 173.85L1221.20 169.38L1221.52 164.75L1221.84 160.00L1222.16 155.18L1222.48 150.36L1222.80 145.59L1223.12 140.92L1223.44 136.42L1223.76 132.14L1224.08 128.12L1224.40 124.43L1224.72 121.10L1225.04 118.18L1225.36 115.69L1225.68 113.67L1226.00 112.13L1226.32 111.08L1226.64 110.53L1226.96 110.48L1227.28 110.91L1227.60 111.80L1227.92 113.13L1228.24 114.87L1228.56 116.97L1228.88 119.40L1229.20 122.11L1229.52 125.05L1229.84 128.16L1230.16 131.41L1230.48 134.72L1230.80 138.06L1231.12 141.38L1231.44 144.61L1231.76 147.72L1232.08 150.66L1232.40 153.40L1232.72 155.88L1233.04 158.08L1233.36 159.97L1233.68 161.52L1234.00 162.72L1234.32 163.53L1234.64 163.95L1234.96 163.97L1235.28 163.58L1235.60 162.78L1235.92 161.58L1236.24 159.98L1236.56 157.99L1236.88 155.64L1237.20 152.94L1237.52 149.92L1237.84 146.61L1238.16 143.04L1238.48 139.25L1238.80 135.28L1239.12 131.17L1239.44 126.97L1239.76 122.72L1240.08 118.49L1240.40 114.31L1240.72 110.23L1241.05 106.31L1241.37 102.60L1241.69 99.13L1242.01 95.95L1242.33 93.10L1242.65 90.61L1242.97 88.50L1243.29 86.80L1243.61 85.53L1243.93 84.69L1244.25 84.29L1244.57 84.31L1244.89 84.76L1245.21 85.61L1245.53 86.84L1245.85 88.43L1246.17 90.33L1246.49 92.52L1246.81 94.95L1247.13 97.59L1247.45 100.38L1247.77 103.28L1248.09 106.25L1248.41 109.24L1248.73 112.21L1249.05 115.11L1249.37 117.90L1249.69 120.54L1250.01 123.00L1250.33 125.24L1250.65 127.23L1250.97 128.95L1251.29 130.38L1251.61 131.48L1251.93 132.26L1252.25 132.69L1252.57 132.77L1252.89 132.50L1253.21 131.88L1253.53 130.90L1253.85 129.59L1254.17 127.94L1254.49 125.98L1254.81 123.73L1255.13 121.21L1255.45 118.45L1255.77 115.47L1256.09 112.31L1256.41 109.01L1256.73 105.60L1257.05 102.12L1257.37 98.61L1257.69 95.11L1258.01 91.67L1258.33 88.32L1258.65 85.11L1258.97 82.06L1259.29 79.23L1259.61 76.64L1259.93 74.32L1260.25 72.30L1260.57 70.60L1260.89 69.23L1261.21 68.21L1261.53 67.55L1261.85 67.24L1262.17 67.28L1262.49 67.66L1262.81 68.38L1263.13 69.40L1263.45 70.72L1263.77 72.29L1264.09 74.10L1264.41 76.11L1264.73 78.28L1265.05 80.59L1265.37 82.99L1265.69 85.45L1266.01 87.92L1266.33 90.38L1266.65 92.79L1266.97 95.11L1267.29 97.32L1267.61 99.37L1267.93 101.25L1268.25 102.93L1268.57 104.38L1268.89 105.60L1269.21 106.55L1269.53 107.24L1269.85 107.64L1270.17 107.77L1270.49 107.60L1270.81 107.15L1271.13 106.41L1271.45 105.40L1271.77 104.12L1272.09 102.60L1272.41 100.84L1272.74 98.86L1273.06 96.70L1273.38 94.37L1273.70 91.89L1274.02 89.31L1274.34 86.64L1274.66 83.92L1274.98 81.18L1275.30 78.45L1275.62 75.77L1275.94 73.17L1276.26 70.67L1276.58 68.31L1276.90 66.11L1277.22 64.10L1277.54 62.31L1277.86 60.74L1278.18 59.42L1278.50 58.36L1278.82 57.56L1279.14 57.04L1279.46 56.79L1279.78 56.81L1280.10 57.10L1280.42 57.63L1280.74 58.41L1281.06 59.41L1281.38 60.61L1281.70 61.99L1282.02 63.53L1282.34 65.20L1282.66 66.97L1282.98 68.82L1283.30 70.71L1283.62 72.63L1283.94 74.53L1284.26 76.40L1284.58 78.20L1284.90 79.92L1285.22 81.52L1285.54 82.99L1285.86 84.31L1286.18 85.46L1286.50 86.43L1286.82 87.20L1287.14 87.77L1287.46 88.12L1287.78 88.25L1288.10 88.17L1288.42 87.86L1288.74 87.34L1289.06 86.61L1289.38 85.69L1289.70 84.57L1290.02 83.27L1290.34 81.82L1290.66 80.22L1290.98 78.49L1291.30 76.66L1291.62 74.75L1291.94 72.77L1292.26 70.76L1292.58 68.74L1292.90 66.72L1293.22 64.74L1293.54 62.82L1293.86 60.97L1294.18 59.23L1294.50 57.60L1294.82 56.12L1295.14 54.79L1295.46 53.62L1295.78 52.64L1296.10 51.84L1296.42 51.24L1296.74 50.83L1297.06 50.63L1297.38 50.62L1297.70 50.80L1298.02 51.16L1298.34 51.70L1298.66 52.41L1298.98 53.26L1299.30 54.24L1299.62 55.34L1299.94 56.53L1300.26 57.81L1300.58 59.14L1300.90 60.51L1301.22 61.89L1301.54 63.28L1301.86 64.63L1302.18 65.95L1302.50 67.20L1302.82 68.38L1303.14 69.46L1303.46 70.44L1303.78 71.29L1304.10 72.02L1304.42 72.60L1304.74 73.04L1305.07 73.32L1305.39 73.44L1305.71 73.41L1306.03 73.22L1306.35 72.88L1306.67 72.39L1306.99 71.75L1307.31 70.98L1307.63 70.08L1307.95 69.06L1308.27 67.94L1308.59 66.74L1308.91 65.45L1309.23 64.11L1309.55 62.73L1309.87 61.31L1310.19 59.89L1310.51 58.48L1310.83 57.08L1311.15 55.73L1311.47 54.43L1311.79 53.20L1312.11 52.06L1312.43 51.01L1312.75 50.06L1313.07 49.23L1313.39 48.53L1313.71 47.95L1314.03 47.51L1314.35 47.20L1314.67 47.03L1314.99 46.99L1315.31 47.09L1315.63 47.31L1315.95 47.66L1316.27 48.12L1316.59 48.68L1316.91 49.33L1317.23 50.07L1317.55 50.87L1317.87 51.73L1318.19 52.63L1318.51 53.56L1318.83 54.50L1319.15 55.44L1319.47 56.37L1319.79 57.28L1320.11 58.14L1320.43 58.95L1320.75 59.70L1321.07 60.38L1321.39 60.98L1321.71 61.49L1322.03 61.91L1322.35 62.22L1322.67 62.43L1322.99 62.54L1323.31 62.54L1323.63 62.43L1323.95 62.22L1324.27 61.90L1324.59 61.49L1324.91 60.98L1325.23 60.39L1325.55 59.72L1325.87 58.98L1326.19 58.18L1326.51 57.33L1326.83 56.44L1327.15 55.52L1327.47 54.57L1327.79 53.63L1328.11 52.68L1328.43 51.75L1328.75 50.84L1329.07 49.97L1329.39 49.15L1329.71 48.38L1330.03 47.67L1330.35 47.02L1330.67 46.46L1330.99 45.97L1331.31 45.57L1331.63 45.26L1331.95 45.04L1332.27 44.90L1332.59 44.86L1332.91 44.90L1333.23 45.02L1333.55 45.22L1333.87 45.50L1334.19 45.85L1334.51 46.25L1334.83 46.72L1335.15 47.22L1335.47 47.77L1335.79 48.34L1336.11 48.94L1336.43 49.55L1336.76 50.15L1337.08 50.75L1337.40 51.34L1337.72 51.90L1338.04 52.43L1338.36 52.92L1338.68 53.37L1339.00 53.76L1339.32 54.10L1339.64 54.38L1339.96 54.60L1340.28 54.74L1340.60 54.83L1340.92 54.84L1341.24 54.78L1341.56 54.66L1341.88 54.47L1342.20 54.21L1342.52 53.90L1342.84 53.53L1343.16 53.12L1343.48 52.65L1343.80 52.15L1344.12 51.61L1344.44 51.05L1344.76 50.47L1345.08 49.87L1345.40 49.27L1345.72 48.67L1346.04 48.08L1346.36 47.50L1346.68 46.94L1347.00 46.42L1347.32 45.92L1347.64 45.46L1347.96 45.05L1348.28 44.68L1348.60 44.37L1348.92 44.10L1349.24 43.89L1349.56 43.73L1349.88 43.63L1350.20 43.59L1350.52 43.60L1350.84 43.66L1351.16 43.77L1351.48 43.93L1351.80 44.13L1352.12 44.37L1352.44 44.64L1352.76 44.94L1353.08 45.27L1353.40 45.62L1353.72 45.98L1354.04 46.35L1354.36 46.72L1354.68 47.09L1355.00 47.44L1355.32 47.79L1355.64 48.12L1355.96 48.42L1356.28 48.70L1356.60 48.95L1356.92 49.16L1357.24 49.34L1357.56 49.48L1357.88 49.57L1358.20 49.63L1358.52 49.65L1358.84 49.62L1359.16 49.55L1359.48 49.44L1359.80 49.30L1360.12 49.12L1360.44 48.90L1360.76 48.65L1361.08 48.37L1361.40 48.07L1361.72 47.75L1362.04 47.41L1362.36 47.06L1362.68 46.70L1363.00 46.34L1363.32 45.98L1363.64 45.62L1363.96 45.27L1364.28 44.93L1364.60 44.61L1364.92 44.31L1365.24 44.03L1365.56 43.77L1365.88 43.55L1366.20 43.35L1366.52 43.18L1366.84 43.04L1367.16 42.94L1367.48 42.87L1367.80 42.83L1368.12 42.83L1368.44 42.85L1368.76 42.91L1369.09 42.99L1369.41 43.10L1369.73 43.23L1370.05 43.39L1370.37 43.56L1370.69 43.75L1371.01 43.94L1371.33 44.15L1371.65 44.36L1371.97 44.58L1372.29 44.79L1372.61 45.00L1372.93 45.20L1373.25 45.39L1373.57 45.57L1373.89 45.74L1374.21 45.88L1374.53 46.01L1374.85 46.12L1375.17 46.20L1375.49 46.26L1375.81 46.30L1376.13 46.31L1376.45 46.30L1376.77 46.27L1377.09 46.21L1377.41 46.13L1377.73 46.03L1378.05 45.91L1378.37 45.77L1378.69 45.61L1379.01 45.44L1379.33 45.26L1379.65 45.06L1379.97 44.86L1380.29 44.66L1380.61 44.45L1380.93 44.24L1381.25 44.04L1381.57 43.83L1381.89 43.64L1382.21 43.45L1382.53 43.28L1382.85 43.11L1383.17 42.96L1383.49 42.83L1383.81 42.71L1384.13 42.61L1384.45 42.53L1384.77 42.46L1385.09 42.42L1385.41 42.39L1385.73 42.38L1386.05 42.39L1386.37 42.41L1386.69 42.45L1387.01 42.51L1387.33 42.58L1387.65 42.66L1387.97 42.75L1388.29 42.85L1388.61 42.96L1388.93 43.07L1389.25 43.19L1389.57 43.31L1389.89 43.42L1390.21 43.54L1390.53 43.65L1390.85 43.76L1391.17 43.86L1391.49 43.95L1391.81 44.03L1392.13 44.10L1392.45 44.16L1392.77 44.21L1393.09 44.25L1393.41 44.27L1393.73 44.28L1394.05 44.28L1394.37 44.26L1394.69 44.23L1395.01 44.19L1395.33 44.14L1395.65 44.07L1395.97 44.00L1396.29 43.91L1396.61 43.82L1396.93 43.72L1397.25 43.62L1397.57 43.51L1397.89 43.40L1398.21 43.28L1398.53 43.17L1398.85 43.06L1399.17 42.95L1399.49 42.84L1399.81 42.74L1400.13 42.64L1400.45 42.55L1400.78 42.46L1401.10 42.39L1401.42 42.32L1401.74 42.26L1402.06 42.22L1402.38 42.18L1402.70 42.15L1403.02 42.13L1403.34 42.13L1403.66 42.13L1403.98 42.14L1404.30 42.16L1404.62 42.18L1404.94 42.22L1405.26 42.26L1405.58 42.30L1405.90 42.36L1406.22 42.41L1406.54 42.47L1406.86 42.53L1407.18 42.59L1407.50 42.65L1407.82 42.71L1408.14 42.77L1408.46 42.83L1408.78 42.88L1409.10 42.93L1409.42 42.98L1409.74 43.01L1410.06 43.05L1410.38 43.07L1410.70 43.09L1411.02 43.11L1411.34 43.11L1411.66 43.11L1411.98 43.11L1412.30 43.09L1412.62 43.07L1412.94 43.04L1413.26 43.01L1413.58 42.97L1413.90 42.93L1414.22 42.88L1414.54 42.83L1414.86 42.78L1415.18 42.72L1415.50 42.66L1415.82 42.61L1416.14 42.55L1416.46 42.49L1416.78 42.43L1417.10 42.37L1417.42 42.32L1417.74 42.27L1418.06 42.22L1418.38 42.17L1418.70 42.13L1419.02 42.10L1419.34 42.07L1419.66 42.04L1419.98 42.02L1420.30 42.00L1420.62 41.99L1420.94 41.99L1421.26 41.99L1421.58 41.99L1421.90 42.00L1422.22 42.01L1422.54 42.03L1422.86 42.05L1423.18 42.07L1423.50 42.09L1423.82 42.12L1424.14 42.15L1424.46 42.18L1424.78 42.21L1425.10 42.24L1425.42 42.27L1425.74 42.30L1426.06 42.33L1426.38 42.36L1426.70 42.38L1427.02 42.40L1427.34 42.42L1427.66 42.44L1427.98 42.45L1428.30 42.46L1428.62 42.47L1428.94 42.48L1429.26 42.48L1429.58 42.47L1429.90 42.47L1430.22 42.46L1430.54 42.44L1430.86 42.43L1431.18 42.41L1431.50 42.39L1431.82 42.37L1432.14 42.34L1432.46 42.31L1432.78 42.29L1433.11 42.26L1433.43 42.23L1433.75 42.20L1434.07 42.17L1434.39 42.14L1434.71 42.11L1435.03 42.09L1435.35 42.06L1435.67 42.04L1435.99 42.01L1436.31 41.99L1436.63 41.97L1436.95 41.96L1437.27 41.94L1437.59 41.93L1437.91 41.92L1438.23 41.92L1438.55 41.91L1438.87 41.91L1439.19 41.91L1439.51 41.92L1439.83 41.92L1440.15 41.93L1440.47 41.94L1440.79 41.95L1441.11 41.96L1441.43 41.97L1441.75 41.99L1442.07 42.00L1442.39 42.01L1442.71 42.03L1443.03 42.04L1443.35 42.06L1443.67 42.07L1443.99 42.08L1444.31 42.10L1444.63 42.11L1444.95 42.12L1445.27 42.12L1445.59 42.13L1445.91 42.14L1446.23 42.14L1446.55 42.14L1446.87 42.14L1447.19 42.14L1447.51 42.14L1447.83 42.13L1448.15 42.13L1448.47 42.12L1448.79 42.11L1449.11 42.10L1449.43 42.09L1449.75 42.08L1450.07 42.07L1450.39 42.06L1450.71 42.04L1451.03 42.03L1451.35 42.01L1451.67 42.00L1451.99 41.99L1452.31 41.97L1452.63 41.96L1452.95 41.95L1453.27 41.94L1453.59 41.93L1453.91 41.92L1454.23 41.91L1454.55 41.90L1454.87 41.89L1455.19 41.89L1455.51 41.88L1455.83 41.88L1456.15 41.88L1456.47 41.88L1456.79 41.88L1457.11 41.88L1457.43 41.88L1457.75 41.88L1458.07 41.89L1458.39 41.89L1458.71 41.90L1459.03 41.90L1459.35 41.91L1459.67 41.91L1459.99 41.92L1460.31 41.93L1460.63 41.93L1460.95 41.94L1461.27 41.95L1461.59 41.95L1461.91 41.96L1462.23 41.96L1462.55 41.97L1462.87 41.97L1463.19 41.97L1463.51 41.98L1463.83 41.98L1464.15 41.98L1464.47 41.98L1464.80 41.98L1465.12 41.98L1465.44 41.98L1465.76 41.97L1466.08 41.97L1466.40 41.97L1466.72 41.96L1467.04 41.96L1467.36 41.95L1467.68 41.95L1468.00 41.94L1468.32 41.94L1468.64 41.93L1468.96 41.92L1469.28 41.92L1469.60 41.91L1469.92 41.90L1470.24 41.90L1470.56 41.89L1470.88 41.89L1471.20 41.88L1471.52 41.88L1471.84 41.87L1472.16 41.87L1472.48 41.87L1472.80 41.86L1473.12 41.86L1473.44 41.86L1473.76 41.86L1474.08 41.86L1474.40 41.86L1474.72 41.86L1475.04 41.86L1475.36 41.86L1475.68 41.86L1476.00 41.86L1476.32 41.87L1476.64 41.87L1476.96 41.87L1477.28 41.87L1477.60 41.88L1477.92 41.88L1478.24 41.88L1478.56 41.89L1478.88 41.89L1479.20 41.89L1479.52 41.89L1479.84 41.90L1480.16 41.90L1480.48 41.90L1480.80 41.90" stroke="#9400d3"/>
<path d="M840.60 552.50L840.92 552.50L841.24 552.50L841.56 552.50L841.88 552.50L842.20 552.50L842.52 552.50L842.84 552.50L843.16 552.50L843.48 552.50L843.80 552.50L844.12 552.50L844.44 552.50L844.76 552.50L845.08 552.50L845.40 552.50L845.72 552.50L846.04 552.50L846.36 552.50L846.68 552.50L847.00 552.50L847.32 552.50L847.64 552.50L847.96 552.50L848.28 552.50L848.60 552.50L848.92 552.50L849.24 552.50L849.56 552.50L849.88 552.50L850.20 552.50L850.52 552.50L850.84 552.50L851.16 552.50L851.48 552.50L851.80 552.50L852.12 552.50L852.44 552.50L852.76 552.50L853.08 552.50L853.40 552.50L853.72 552.50L854.04 552.50L854.36 552.50L854.68 552.50L855.00 552.50L855.32 552.50L855.64 552.50L855.96 552.50L856.28 552.50L856.61 552.50L856.93 552.50L857.25 552.50L857.57 552.50L857.89 552.50L858.21 552.50L858.53 552.50L858.85 552.50L859.17 552.50L859.49 552.50L859.81 552.50L860.13 552.50L860.45 552.50L860.77 552.50L861.09 552.50L861.41 552.50L861.73 552.50L862.05 552.50L862.37 552.50L862.69 552.50L863.01 552.50L863.33 552.50L863.65 552.50L863.97 552.50L864.29 552.50L864.61 552.50L864.93 552.50L865.25 552.50L865.57 552.50L865.89 552.50L866.21 552.50L866.53 552.50L866.85 552.50L867.17 552.50L867.49 552.50L867.81 552.50L868.13 552.50L868.45 552.50L868.77 552.50L869.09 552.50L869.41 552.50L869.73 552.50L870.05 552.50L870.37 552.50L870.69 552.50L871.01 552.50L871.33 552.50L871.65 552.50L871.97 552.50L872.29 552.50L872.61 552.50L872.93 552.50L873.25 552.50L873.57 552.50L873.89 552.50L874.21 552.50L874.53 552.50L874.85 552.50L875.17 552.50L875.49 552.50L875.81 552.50L876.13 552.50L876.45 552.50L876.77 552.50L877.09 552.50L877.41 552.50L877.73 552.50L878.05 552.50L878.37 552.50L878.69 552.50L879.01 552.50L879.33 552.50L879.65 552.50L879.97 552.50L880.29 552.50L880.61 552.50L880.93 552.50L881.25 552.50L881.57 552.50L881.89 552.50L882.21 552.50L882.53 552.50L882.85 552.50L883.17 552.50L883.49 552.50L883.81 552.50L884.13 552.50L884.45 552.50L884.77 552.50L885.09 552.50L885.41 552.50L885.73 552.50L886.05 552.50L886.37 552.50L886.69 552.50L887.01 552.50L887.33 552.50L887.65 552.50L887.97 552.50L888.29 552.50L888.62 552.50L888.94 552.50L889.26 552.50L889.58 552.50L889.90 552.50L890.22 552.50L890.54 552.50L890.86 552.50L891.18 552.50L891.50 552.50L891.82 552.50L892.14 552.50L892.46 552.50L892.78 552.50L893.10 552.50L893.42 552.50L893.74 552.50L894.06 552.50L894.38 552.50L894.70 552.50L895.02 552.50L895.34 552.50L895.66 552.50L895.98 552.50L896.30 552.50L896.62 552.50L896.94 552.50L897.26 552.50L897.58 552.50L897.90 552.50L898.22 552.50L898.54 552.50L898.86 552.50L899.18 552.50L899.50 552.50L899.82 552.50L900.14 552.50L900.46 552.50L900.78 552.50L901.10 552.50L901.42 552.50L901.74 552.50L902.06 552.50L902.38 552.50L902.70 552.50L903.02 552.50L903.34 552.50L903.66 552.50L903.98 552.50L904.30 552.50L904.62 552.50L904.94 552.50L905.26 552.50L905.58 552.50L905.90 552.50L906.22 552.50L906.54 552.50L906.86 552.50L907.18 552.50L907.50 552.50L907.82 552.50L908.14 552.50L908.46 552.50L908.78 552.50L909.10 552.50L909.42 552.50L909.74 552.50L910.06 552.50L910.38 552.50L910.70 552.50L911.02 552.50L911.34 552.50L911.66 552.50L911.98 552.50L912.30 552.50L912.62 552.50L912.94 552.50L913.26 552.50L913.58 552.50L913.90 552.50L914.22 552.50L914.54 552.50L914.86 552.50L915.18 552.50L915.50 552.50L915.82 552.50L916.14 552.50L916.46 552.50L916.78 552.50L917.10 552.50L917.42 552.50L917.74 552.50L918.06 552.50L918.38 552.50L918.70 552.50L919.02 552.50L919.34 552.50L919.66 552.50L919.98 552.49L920.30 552.49L920.62 552.49L920.95 552.49L921.27 552.49L921.59 552.49L921.91 552.49L922.23 552.49L922.55 552.49L922.87 552.49L923.19 552.49L923.51 552.49L923.83 552.49L924.15 552.49L924.47 552.49L924.79 552.49L925.11 552.49L925.43 552.49L925.75 552.49L926.07 552.49L926.39 552.49L926.71 552.49L927.03 552.49L927.35 552.49L927.67 552.49L927.99 552.49L928.31 552.49L928.63 552.49L928.95 552.49L929.27 552.49L929.59 552.49L929.91 552.49L930.23 552.49L930.55 552.49L930.87 552.49L931.19 552.49L931.51 552.49L931.83 552.49L932.15 552.49L932.47 552.49L932.79 552.49L933.11 552.49L933.43 552.49L933.75 552.49L934.07 552.49L934.39 552.49L934.71 552.49L935.03 552.49L935.35 552.49L935.67 552.49L935.99 552.48L936.31 552.48L936.63 552.48L936.95 552.48L937.27 552.48L937.59 552.48L937.91 552.48L938.23 552.48L938.55 552.48L938.87 552.48L939.19 552.48L939.51 552.48L939.83 552.47L940.15 552.47L940.47 552.47L940.79 552.47L941.11 552.47L941.43 552.47L941.75 552.47L942.07 552.47L942.39 552.47L942.71 552.47L943.03 552.47L943.35 552.47L943.67 552.47L943.99 552.47L944.31 552.47L944.63 552.47L944.95 552.47L945.27 552.47L945.59 552.47L945.91 552.47L946.23 552.47L946.55 552.47L946.87 552.47L947.19 552.47L947.51 552.47L947.83 552.47L948.15 552.47L948.47 552.47L948.79 552.47L949.11 552.47L949.43 552.47L949.75 552.47L950.07 552.47L950.39 552.46L950.71 552.46L951.03 552.46L951.35 552.46L951.67 552.46L951.99 552.46L952.31 552.45L952.63 552.45L952.96 552.45L953.28 552.45L953.60 552.44L953.92 552.44L954.24 552.44L954.56 552.44L954.88 552.43L955.20 552.43L955.52 552.43L955.84 552.43L956.16 552.42L956.48 552.42L956.80 552.42L957.12 552.42L957.44 552.41L957.76 552.41L958.08 552.41L958.40 552.41L958.72 552.41L959.04 552.40L959.36 552.40L959.68 552.40L960.00 552.40L960.32 552.40L960.64 552.40L960.96 552.40L961.28 552.40L961.60 552.40L961.92 552.40L962.24 552.40L962.56 552.40L962.88 552.40L963.20 552.40L963.52 552.40L963.84 552.40L964.16 552.40L964.48 552.40L964.80 552.40L965.12 552.40L965.44 552.40L965.76 552.40L966.08 552.40L966.40 552.40L966.72 552.40L967.04 552.39L967.36 552.39L967.68 552.38L968.00 552.38L968.32 552.38L968.64 552.37L968.96 552.36L969.28 552.36L969.60 552.35L969.92 552.35L970.24 552.34L970.56 552.33L970.88 552.33L971.20 552.32L971.52 552.31L971.84 552.31L972.16 552.30L972.48 552.29L972.80 552.28L973.12 552.28L973.44 552.27L973.76 552.26L974.08 552.25L974.40 552.25L974.72 552.24L975.04 552.23L975.36 552.22L975.68 552.22L976.00 552.21L976.32 552.21L976.64 552.20L976.96 552.20L977.28 552.19L977.60 552.19L977.92 552.19L978.24 552.19L978.56 552.19L978.88 552.19L979.20 552.19L979.52 552.19L979.84 552.19L980.16 552.19L980.48 552.19L980.80 552.20L981.12 552.20L981.44 552.20L981.76 552.20L982.08 552.20L982.40 552.20L982.72 552.20L983.04 552.20L983.36 552.20L983.68 552.19L984.00 552.18L984.32 552.18L984.64 552.17L984.97 552.16L985.29 552.15L985.61 552.13L985.93 552.12L986.25 552.11L986.57 552.09L986.89 552.07L987.21 552.06L987.53 552.04L987.85 552.02L988.17 552.00L988.49 551.99L988.81 551.97L989.13 551.95L989.45 551.93L989.77 551.91L990.09 551.89L990.41 551.87L990.73 551.85L991.05 551.83L991.37 551.81L991.69 551.79L992.01 551.77L992.33 551.75L992.65 551.74L992.97 551.72L993.29 551.70L993.61 551.69L993.93 551.67L994.25 551.66L994.57 551.65L994.89 551.64L995.21 551.63L995.53 551.63L995.85 551.62L996.17 551.62L996.49 551.62L996.81 551.62L997.13 551.62L997.45 551.63L997.77 551.63L998.09 551.64L998.41 551.64L998.73 551.65L999.05 551.65L999.37 551.65L999.69 551.66L1000.01 551.65L1000.33 551.65L1000.65 551.64L1000.97 551.63L1001.29 551.62L1001.61 551.60L1001.93 551.58L1002.25 551.56L1002.57 551.53L1002.89 551.50L1003.21 551.47L1003.53 551.44L1003.85 551.40L1004.17 551.36L1004.49 551.32L1004.81 551.28L1005.13 551.23L1005.45 551.19L1005.77 551.14L1006.09 551.10L1006.41 551.05L1006.73 551.01L1007.05 550.96L1007.37 550.91L1007.69 550.87L1008.01 550.82L1008.33 550.77L1008.65 550.73L1008.97 550.68L1009.29 550.64L1009.61 550.59L1009.93 550.55L1010.25 550.51L1010.57 550.47L1010.89 550.43L1011.21 550.40L1011.53 550.37L1011.85 550.34L1012.17 550.31L1012.49 550.29L1012.81 550.27L1013.13 550.26L1013.45 550.25L1013.77 550.25L1014.09 550.25L1014.41 550.25L1014.73 550.26L1015.05 550.26L1015.37 550.27L1015.69 550.28L1016.01 550.29L1016.33 550.30L1016.65 550.31L1016.98 550.31L1017.30 550.31L1017.62 550.30L1017.94 550.29L1018.26 550.27L1018.58 550.25L1018.90 550.21L1019.22 550.17L1019.54 550.12L1019.86 550.07L1020.18 550.00L1020.50 549.93L1020.82 549.86L1021.14 549.77L1021.46 549.69L1021.78 549.60L1022.10 549.50L1022.42 549.40L1022.74 549.30L1023.06 549.20L1023.38 549.10L1023.70 549.00L1024.02 548.90L1024.34 548.80L1024.66 548.70L1024.98 548.60L1025.30 548.50L1025.62 548.40L1025.94 548.30L1026.26 548.21L1026.58 548.11L1026.90 548.02L1027.22 547.93L1027.54 547.85L1027.86 547.77L1028.18 547.69L1028.50 547.61L1028.82 547.54L1029.14 547.48L1029.46 547.43L1029.78 547.38L1030.10 547.34L1030.42 547.30L1030.74 547.28L1031.06 547.26L1031.38 547.25L1031.70 547.25L1032.02 547.25L1032.34 547.26L1032.66 547.28L1032.98 547.29L1033.30 547.30L1033.62 547.32L1033.94 547.33L1034.26 547.33L1034.58 547.33L1034.90 547.32L1035.22 547.30L1035.54 547.26L1035.86 547.21L1036.18 547.15L1036.50 547.07L1036.82 546.98L1037.14 546.86L1037.46 546.74L1037.78 546.60L1038.10 546.45L1038.42 546.28L1038.74 546.10L1039.06 545.92L1039.38 545.72L1039.70 545.52L1040.02 545.32L1040.34 545.12L1040.66 544.91L1040.98 544.70L1041.30 544.50L1041.62 544.29L1041.94 544.10L1042.26 543.90L1042.58 543.71L1042.90 543.52L1043.22 543.33L1043.54 543.16L1043.86 542.98L1044.18 542.81L1044.50 542.65L1044.82 542.49L1045.14 542.34L1045.46 542.20L1045.78 542.07L1046.10 541.94L1046.42 541.83L1046.74 541.72L1047.06 541.63L1047.38 541.55L1047.70 541.48L1048.02 541.43L1048.34 541.39L1048.66 541.36L1048.99 541.34L1049.31 541.34L1049.63 541.34L1049.95 541.35L1050.27 541.37L1050.59 541.38L1050.91 541.40L1051.23 541.41L1051.55 541.41L1051.87 541.40L1052.19 541.37L1052.51 541.33L1052.83 541.26L1053.15 541.17L1053.47 541.05L1053.79 540.90L1054.11 540.73L1054.43 540.53L1054.75 540.29L1055.07 540.03L1055.39 539.74L1055.71 539.43L1056.03 539.10L1056.35 538.75L1056.67 538.38L1056.99 538.01L1057.31 537.62L1057.63 537.24L1057.95 536.85L1058.27 536.46L1058.59 536.08L1058.91 535.71L1059.23 535.35L1059.55 534.99L1059.87 534.65L1060.19 534.32L1060.51 534.01L1060.83 533.70L1061.15 533.42L1061.47 533.14L1061.79 532.88L1062.11 532.63L1062.43 532.39L1062.75 532.17L1063.07 531.97L1063.39 531.77L1063.71 531.60L1064.03 531.44L1064.35 531.30L1064.67 531.17L1064.99 531.07L1065.31 530.98L1065.63 530.91L1065.95 530.86L1066.27 530.83L1066.59 530.81L1066.91 530.80L1067.23 530.80L1067.55 530.81L1067.87 530.82L1068.19 530.83L1068.51 530.82L1068.83 530.80L1069.15 530.77L1069.47 530.70L1069.79 530.61L1070.11 530.48L1070.43 530.31L1070.75 530.09L1071.07 529.83L1071.39 529.52L1071.71 529.15L1072.03 528.74L1072.35 528.28L1072.67 527.78L1072.99 527.23L1073.31 526.64L1073.63 526.03L1073.95 525.39L1074.27 524.73L1074.59 524.05L1074.91 523.37L1075.23 522.70L1075.55 522.03L1075.87 521.37L1076.19 520.73L1076.51 520.12L1076.83 519.53L1077.15 518.98L1077.47 518.45L1077.79 517.95L1078.11 517.49L1078.43 517.06L1078.75 516.66L1079.07 516.29L1079.39 515.95L1079.71 515.64L1080.03 515.36L1080.35 515.10L1080.67 514.87L1081.00 514.66L1081.32 514.48L1081.64 514.32L1081.96 514.19L1082.28 514.08L1082.60 513.99L1082.92 513.92L1083.24 513.87L1083.56 513.83L1083.88 513.82L1084.20 513.81L1084.52 513.81L1084.84 513.81L1085.16 513.80L1085.48 513.79L1085.80 513.75L1086.12 513.69L1086.44 513.60L1086.76 513.46L1087.08 513.27L1087.40 513.02L1087.72 512.71L1088.04 512.33L1088.36 511.88L1088.68 511.34L1089.00 510.73L1089.32 510.04L1089.64 509.27L1089.96 508.43L1090.28 507.52L1090.60 506.55L1090.92 505.53L1091.24 504.47L1091.56 503.38L1091.88 502.27L1092.20 501.16L1092.52 500.06L1092.84 498.97L1093.16 497.91L1093.48 496.89L1093.80 495.92L1094.12 495.01L1094.44 494.16L1094.76 493.37L1095.08 492.65L1095.40 492.00L1095.72 491.41L1096.04 490.90L1096.36 490.45L1096.68 490.06L1097.00 489.72L1097.32 489.44L1097.64 489.21L1097.96 489.03L1098.28 488.88L1098.60 488.78L1098.92 488.70L1099.24 488.65L1099.56 488.63L1099.88 488.64L1100.20 488.66L1100.52 488.69L1100.84 488.74L1101.16 488.79L1101.48 488.84L1101.80 488.88L1102.12 488.90L1102.44 488.91L1102.76 488.88L1103.08 488.81L1103.40 488.69L1103.72 488.51L1104.04 488.26L1104.36 487.93L1104.68 487.50L1105.00 486.98L1105.32 486.35L1105.64 485.60L1105.96 484.74L1106.28 483.76L1106.60 482.67L1106.92 481.45L1107.24 480.13L1107.56 478.71L1107.88 477.20L1108.20 475.61L1108.52 473.97L1108.84 472.28L1109.16 470.57L1109.48 468.85L1109.80 467.15L1110.12 465.49L1110.44 463.88L1110.76 462.34L1111.08 460.89L1111.40 459.54L1111.72 458.31L1112.04 457.19L1112.36 456.20L1112.68 455.33L1113.01 454.60L1113.33 453.99L1113.65 453.50L1113.97 453.13L1114.29 452.86L1114.61 452.70L1114.93 452.63L1115.25 452.63L1115.57 452.71L1115.89 452.84L1116.21 453.02L1116.53 453.24L1116.85 453.49L1117.17 453.77L1117.49 454.05L1117.81 454.33L1118.13 454.61L1118.45 454.87L1118.77 455.10L1119.09 455.30L1119.41 455.45L1119.73 455.54L1120.05 455.57L1120.37 455.51L1120.69 455.37L1121.01 455.11L1121.33 454.74L1121.65 454.24L1121.97 453.60L1122.29 452.81L1122.61 451.86L1122.93 450.75L1123.25 449.46L1123.57 448.01L1123.89 446.39L1124.21 444.61L1124.53 442.68L1124.85 440.60L1125.17 438.40L1125.49 436.09L1125.81 433.70L1126.13 431.25L1126.45 428.77L1126.77 426.29L1127.09 423.84L1127.41 421.44L1127.73 419.13L1128.05 416.93L1128.37 414.86L1128.69 412.96L1129.01 411.24L1129.33 409.71L1129.65 408.38L1129.97 407.27L1130.29 406.37L1130.61 405.68L1130.93 405.19L1131.25 404.91L1131.57 404.80L1131.89 404.87L1132.21 405.09L1132.53 405.45L1132.85 405.92L1133.17 406.49L1133.49 407.14L1133.81 407.85L1134.13 408.60L1134.45 409.37L1134.77 410.14L1135.09 410.90L1135.41 411.63L1135.73 412.31L1136.05 412.93L1136.37 413.47L1136.69 413.92L1137.01 414.26L1137.33 414.47L1137.65 414.55L1137.97 414.47L1138.29 414.23L1138.61 413.80L1138.93 413.18L1139.25 412.36L1139.57 411.32L1139.89 410.05L1140.21 408.56L1140.53 406.83L1140.85 404.88L1141.17 402.69L1141.49 400.29L1141.81 397.68L1142.13 394.88L1142.45 391.91L1142.77 388.80L1143.09 385.57L1143.41 382.27L1143.73 378.92L1144.05 375.57L1144.37 372.25L1144.69 369.01L1145.02 365.89L1145.34 362.92L1145.66 360.14L1145.98 357.58L1146.30 355.28L1146.62 353.25L1146.94 351.51L1147.26 350.08L1147.58 348.97L1147.90 348.16L1148.22 347.67L1148.54 347.48L1148.86 347.56L1149.18 347.92L1149.50 348.51L1149.82 349.31L1150.14 350.30L1150.46 351.45L1150.78 352.73L1151.10 354.09L1151.42 355.53L1151.74 356.99L1152.06 358.46L1152.38 359.91L1152.70 361.31L1153.02 362.63L1153.34 363.85L1153.66 364.95L1153.98 365.90L1154.30 366.68L1154.62 367.28L1154.94 367.67L1155.26 367.83L1155.58 367.76L1155.90 367.43L1156.22 366.83L1156.54 365.95L1156.86 364.78L1157.18 363.31L1157.50 361.54L1157.82 359.46L1158.14 357.09L1158.46 354.42L1158.78 351.48L1159.10 348.27L1159.42 344.81L1159.74 341.14L1160.06 337.29L1160.38 333.28L1160.70 329.17L1161.02 325.00L1161.34 320.81L1161.66 316.65L1161.98 312.57L1162.30 308.64L1162.62 304.88L1162.94 301.35L1163.26 298.10L1163.58 295.17L1163.90 292.58L1164.22 290.36L1164.54 288.54L1164.86 287.13L1165.18 286.13L1165.50 285.55L1165.82 285.36L1166.14 285.57L1166.46 286.14L1166.78 287.04L1167.10 288.26L1167.42 289.74L1167.74 291.46L1168.06 293.36L1168.38 295.41L1168.70 297.58L1169.02 299.80L1169.34 302.05L1169.66 304.28L1169.98 306.46L1170.30 308.55L1170.62 310.51L1170.94 312.31L1171.26 313.92L1171.58 315.32L1171.90 316.47L1172.22 317.35L1172.54 317.95L1172.86 318.24L1173.18 318.20L1173.50 317.82L1173.82 317.09L1174.14 315.99L1174.46 314.53L1174.78 312.70L1175.10 310.50L1175.42 307.93L1175.74 305.01L1176.06 301.75L1176.38 298.18L1176.70 294.30L1177.03 290.17L1177.35 285.80L1177.67 281.25L1177.99 276.56L1178.31 271.77L1178.63 266.95L1178.95 262.14L1179.27 257.41L1179.59 252.81L1179.91 248.40L1180.23 244.24L1180.55 240.37L1180.87 236.86L1181.19 233.73L1181.51 231.02L1181.83 228.77L1182.15 227.00L1182.47 225.71L1182.79 224.91L1183.11 224.60L1183.43 224.76L1183.75 225.37L1184.07 226.42L1184.39 227.85L1184.71 229.64L1185.03 231.73L1185.35 234.09L1185.67 236.66L1185.99 239.40L1186.31 242.25L1186.63 245.16L1186.95 248.08L1187.27 250.97L1187.59 253.77L1187.91 256.44L1188.23 258.95L1188.55 261.25L1188.87 263.31L1189.19 265.09L1189.51 266.57L1189.83 267.72L1190.15 268.51L1190.47 268.93L1190.79 268.96L1191.11 268.59L1191.43 267.80L1191.75 266.59L1192.07 264.96L1192.39 262.92L1192.71 260.46L1193.03 257.60L1193.35 254.36L1193.67 250.75L1193.99 246.81L1194.31 242.57L1194.63 238.06L1194.95 233.33L1195.27 228.42L1195.59 223.39L1195.91 218.29L1196.23 213.17L1196.55 208.11L1196.87 203.16L1197.19 198.37L1197.51 193.82L1197.83 189.56L1198.15 185.63L1198.47 182.10L1198.79 178.99L1199.11 176.36L1199.43 174.22L1199.75 172.59L1200.07 171.49L1200.39 170.92L1200.71 170.86L1201.03 171.31L1201.35 172.25L1201.67 173.63L1201.99 175.44L1202.31 177.61L1202.63 180.11L1202.95 182.88L1203.27 185.88L1203.59 189.04L1203.91 192.32L1204.23 195.65L1204.55 198.98L1204.87 202.26L1205.19 205.45L1205.51 208.48L1205.83 211.32L1206.15 213.93L1206.47 216.26L1206.79 218.29L1207.11 219.98L1207.43 221.31L1207.75 222.25L1208.07 222.78L1208.39 222.89L1208.71 222.57L1209.04 221.81L1209.36 220.61L1209.68 218.98L1210.00 216.90L1210.32 214.41L1210.64 211.51L1210.96 208.23L1211.28 204.60L1211.60 200.63L1211.92 196.38L1212.24 191.87L1212.56 187.16L1212.88 182.30L1213.20 177.34L1213.52 172.33L1213.84 167.33L1214.16 162.41L1214.48 157.61L1214.80 153.00L1215.12 148.65L1215.44 144.59L1215.76 140.88L1216.08 137.56L1216.40 134.69L1216.72 132.27L1217.04 130.35L1217.36 128.94L1217.68 128.05L1218.00 127.67L1218.32 127.80L1218.64 128.43L1218.96 129.53L1219.28 131.06L1219.60 133.00L1219.92 135.31L1220.24 137.93L1220.56 140.81L1220.88 143.91L1221.20 147.17L1221.52 150.53L1221.84 153.95L1222.16 157.36L1222.48 160.72L1222.80 163.97L1223.12 167.08L1223.44 169.98L1223.76 172.65L1224.08 175.05L1224.40 177.14L1224.72 178.89L1225.04 180.28L1225.36 181.28L1225.68 181.88L1226.00 182.07L1226.32 181.84L1226.64 181.18L1226.96 180.09L1227.28 178.59L1227.60 176.67L1227.92 174.35L1228.24 171.65L1228.56 168.60L1228.88 165.22L1229.20 161.54L1229.52 157.60L1229.84 153.44L1230.16 149.11L1230.48 144.65L1230.80 140.11L1231.12 135.55L1231.44 131.01L1231.76 126.56L1232.08 122.24L1232.40 118.10L1232.72 114.21L1233.04 110.60L1233.36 107.31L1233.68 104.40L1234.00 101.88L1234.32 99.80L1234.64 98.16L1234.96 96.99L1235.28 96.29L1235.60 96.05L1235.92 96.28L1236.24 96.95L1236.56 98.04L1236.88 99.54L1237.20 101.39L1237.52 103.58L1237.84 106.05L1238.16 108.76L1238.48 111.66L1238.80 114.71L1239.12 117.85L1239.44 121.04L1239.76 124.22L1240.08 127.36L1240.40 130.40L1240.72 133.30L1241.05 136.02L1241.37 138.52L1241.69 140.78L1242.01 142.75L1242.33 144.41L1242.65 145.74L1242.97 146.73L1243.29 147.34L1243.61 147.59L1243.93 147.45L1244.25 146.93L1244.57 146.02L1244.89 144.74L1245.21 143.10L1245.53 141.10L1245.85 138.77L1246.17 136.14L1246.49 133.22L1246.81 130.04L1247.13 126.65L1247.45 123.08L1247.77 119.36L1248.09 115.54L1248.41 111.66L1248.73 107.78L1249.05 103.92L1249.37 100.14L1249.69 96.49L1250.01 93.01L1250.33 89.73L1250.65 86.70L1250.97 83.96L1251.29 81.54L1251.61 79.45L1251.93 77.73L1252.25 76.40L1252.57 75.45L1252.89 74.90L1253.21 74.74L1253.53 74.98L1253.85 75.59L1254.17 76.55L1254.49 77.85L1254.81 79.46L1255.13 81.35L1255.45 83.47L1255.77 85.80L1256.09 88.30L1256.41 90.92L1256.73 93.62L1257.05 96.36L1257.37 99.10L1257.69 101.80L1258.01 104.42L1258.33 106.93L1258.65 109.28L1258.97 111.45L1259.29 113.41L1259.61 115.14L1259.93 116.60L1260.25 117.79L1260.57 118.67L1260.89 119.25L1261.21 119.52L1261.53 119.46L1261.85 119.09L1262.17 118.39L1262.49 117.38L1262.81 116.07L1263.13 114.46L1263.45 112.59L1263.77 110.46L1264.09 108.10L1264.41 105.53L1264.73 102.79L1265.05 99.91L1265.37 96.91L1265.69 93.84L1266.01 90.73L1266.33 87.61L1266.65 84.52L1266.97 81.50L1267.29 78.58L1267.61 75.80L1267.93 73.20L1268.25 70.79L1268.57 68.62L1268.89 66.69L1269.21 65.04L1269.53 63.68L1269.85 62.63L1270.17 61.88L1270.49 61.45L1270.81 61.32L1271.13 61.51L1271.45 62.00L1271.77 62.76L1272.09 63.79L1272.41 65.07L1272.74 66.57L1273.06 68.25L1273.38 70.11L1273.70 72.09L1274.02 74.18L1274.34 76.33L1274.66 78.52L1274.98 80.71L1275.30 82.88L1275.62 84.98L1275.94 87.00L1276.26 88.90L1276.58 90.65L1276.90 92.24L1277.22 93.65L1277.54 94.85L1277.86 95.83L1278.18 96.58L1278.50 97.08L1278.82 97.34L1279.14 97.34L1279.46 97.09L1279.78 96.59L1280.10 95.85L1280.42 94.86L1280.74 93.66L1281.06 92.24L1281.38 90.62L1281.70 88.83L1282.02 86.88L1282.34 84.79L1282.66 82.60L1282.98 80.32L1283.30 77.98L1283.62 75.62L1283.94 73.25L1284.26 70.91L1284.58 68.62L1284.90 66.41L1285.22 64.30L1285.54 62.33L1285.86 60.51L1286.18 58.86L1286.50 57.40L1286.82 56.15L1287.14 55.11L1287.46 54.30L1287.78 53.73L1288.10 53.38L1288.42 53.27L1288.74 53.39L1289.06 53.73L1289.38 54.29L1289.70 55.04L1290.02 55.97L1290.34 57.07L1290.66 58.32L1290.98 59.69L1291.30 61.16L1291.62 62.71L1291.94 64.32L1292.26 65.95L1292.58 67.59L1292.90 69.22L1293.22 70.80L1293.54 72.32L1293.86 73.75L1294.18 75.08L1294.50 76.29L1294.82 77.37L1295.14 78.29L1295.46 79.05L1295.78 79.64L1296.10 80.05L1296.42 80.27L1296.74 80.31L1297.06 80.16L1297.38 79.83L1297.70 79.31L1298.02 78.62L1298.34 77.76L1298.66 76.75L1298.98 75.59L1299.30 74.30L1299.62 72.90L1299.94 71.40L1300.26 69.82L1300.58 68.18L1300.90 66.50L1301.22 64.79L1301.54 63.09L1301.86 61.40L1302.18 59.75L1302.50 58.16L1302.82 56.64L1303.14 55.21L1303.46 53.90L1303.78 52.70L1304.10 51.64L1304.42 50.73L1304.74 49.97L1305.07 49.37L1305.39 48.93L1305.71 48.66L1306.03 48.56L1306.35 48.61L1306.67 48.83L1306.99 49.19L1307.31 49.70L1307.63 50.33L1307.95 51.09L1308.27 51.94L1308.59 52.89L1308.91 53.92L1309.23 55.00L1309.55 56.12L1309.87 57.26L1310.19 58.42L1310.51 59.56L1310.83 60.68L1311.15 61.75L1311.47 62.77L1311.79 63.72L1312.11 64.59L1312.43 65.36L1312.75 66.02L1313.07 66.58L1313.39 67.01L1313.71 67.32L1314.03 67.51L1314.35 67.56L1314.67 67.48L1314.99 67.27L1315.31 66.93L1315.63 66.48L1315.95 65.90L1316.27 65.22L1316.59 64.43L1316.91 63.56L1317.23 62.61L1317.55 61.58L1317.87 60.51L1318.19 59.38L1318.51 58.23L1318.83 57.07L1319.15 55.90L1319.47 54.74L1319.79 53.61L1320.11 52.52L1320.43 51.47L1320.75 50.49L1321.07 49.58L1321.39 48.76L1321.71 48.02L1322.03 47.38L1322.35 46.85L1322.67 46.42L1322.99 46.10L1323.31 45.89L1323.63 45.79L1323.95 45.80L1324.27 45.92L1324.59 46.14L1324.91 46.45L1325.23 46.86L1325.55 47.34L1325.87 47.90L1326.19 48.51L1326.51 49.18L1326.83 49.89L1327.15 50.63L1327.47 51.38L1327.79 52.15L1328.11 52.91L1328.43 53.65L1328.75 54.37L1329.07 55.05L1329.39 55.69L1329.71 56.27L1330.03 56.79L1330.35 57.25L1330.67 57.63L1330.99 57.93L1331.31 58.15L1331.63 58.29L1331.95 58.34L1332.27 58.30L1332.59 58.18L1332.91 57.98L1333.23 57.69L1333.55 57.33L1333.87 56.89L1334.19 56.39L1334.51 55.83L1334.83 55.21L1335.15 54.55L1335.47 53.85L1335.79 53.13L1336.11 52.38L1336.43 51.62L1336.76 50.86L1337.08 50.11L1337.40 49.37L1337.72 48.65L1338.04 47.97L1338.36 47.33L1338.68 46.73L1339.00 46.18L1339.32 45.70L1339.64 45.27L1339.96 44.91L1340.28 44.61L1340.60 44.39L1340.92 44.24L1341.24 44.16L1341.56 44.14L1341.88 44.20L1342.20 44.32L1342.52 44.50L1342.84 44.74L1343.16 45.03L1343.48 45.37L1343.80 45.75L1344.12 46.16L1344.44 46.60L1344.76 47.05L1345.08 47.53L1345.40 48.00L1345.72 48.48L1346.04 48.95L1346.36 49.40L1346.68 49.83L1347.00 50.24L1347.32 50.61L1347.64 50.95L1347.96 51.24L1348.28 51.49L1348.60 51.69L1348.92 51.84L1349.24 51.93L1349.56 51.97L1349.88 51.96L1350.20 51.89L1350.52 51.78L1350.84 51.61L1351.16 51.39L1351.48 51.13L1351.80 50.82L1352.12 50.48L1352.44 50.10L1352.76 49.70L1353.08 49.27L1353.40 48.82L1353.72 48.36L1354.04 47.89L1354.36 47.42L1354.68 46.95L1355.00 46.49L1355.32 46.05L1355.64 45.62L1355.96 45.22L1356.28 44.85L1356.60 44.50L1356.92 44.19L1357.24 43.92L1357.56 43.69L1357.88 43.50L1358.20 43.35L1358.52 43.24L1358.84 43.18L1359.16 43.16L1359.48 43.18L1359.80 43.24L1360.12 43.34L1360.44 43.47L1360.76 43.63L1361.08 43.83L1361.40 44.04L1361.72 44.28L1362.04 44.54L1362.36 44.81L1362.68 45.09L1363.00 45.37L1363.32 45.66L1363.64 45.94L1363.96 46.21L1364.28 46.47L1364.60 46.71L1364.92 46.93L1365.24 47.14L1365.56 47.32L1365.88 47.47L1366.20 47.59L1366.52 47.69L1366.84 47.75L1367.16 47.78L1367.48 47.78L1367.80 47.75L1368.12 47.68L1368.44 47.59L1368.76 47.46L1369.09 47.31L1369.41 47.14L1369.73 46.94L1370.05 46.72L1370.37 46.48L1370.69 46.23L1371.01 45.97L1371.33 45.70L1371.65 45.43L1371.97 45.15L1372.29 44.87L1372.61 44.60L1372.93 44.34L1373.25 44.09L1373.57 43.85L1373.89 43.62L1374.21 43.42L1374.53 43.23L1374.85 43.06L1375.17 42.92L1375.49 42.80L1375.81 42.71L1376.13 42.64L1376.45 42.59L1376.77 42.57L1377.09 42.58L1377.41 42.60L1377.73 42.65L1378.05 42.72L1378.37 42.81L1378.69 42.91L1379.01 43.03L1379.33 43.17L1379.65 43.31L1379.97 43.46L1380.29 43.62L1380.61 43.77L1380.93 43.93L1381.25 44.09L1381.57 44.25L1381.89 44.39L1382.21 44.53L1382.53 44.66L1382.85 44.78L1383.17 44.88L1383.49 44.97L1383.81 45.05L1384.13 45.10L1384.45 45.14L1384.77 45.16L1385.09 45.16L1385.41 45.15L1385.73 45.11L1386.05 45.06L1386.37 45.00L1386.69 44.92L1387.01 44.82L1387.33 44.71L1387.65 44.59L1387.97 44.46L1388.29 44.32L1388.61 44.17L1388.93 44.02L1389.25 43.87L1389.57 43.71L1389.89 43.56L1390.21 43.41L1390.53 43.26L1390.85 43.12L1391.17 42.98L1391.49 42.85L1391.81 42.74L1392.13 42.63L1392.45 42.53L1392.77 42.45L1393.09 42.38L1393.41 42.32L1393.73 42.28L1394.05 42.25L1394.37 42.24L1394.69 42.23L1395.01 42.24L1395.33 42.27L1395.65 42.30L1395.97 42.34L1396.29 42.40L1396.61 42.46L1396.93 42.53L1397.25 42.60L1397.57 42.68L1397.89 42.77L1398.21 42.85L1398.53 42.94L1398.85 43.02L1399.17 43.11L1399.49 43.19L1399.81 43.26L1400.13 43.33L1400.45 43.40L1400.78 43.45L1401.10 43.50L1401.42 43.54L1401.74 43.58L1402.06 43.60L1402.38 43.61L1402.70 43.61L1403.02 43.61L1403.34 43.59L1403.66 43.57L1403.98 43.53L1404.30 43.49L1404.62 43.44L1404.94 43.38L1405.26 43.32L1405.58 43.25L1405.90 43.18L1406.22 43.10L1406.54 43.02L1406.86 42.94L1407.18 42.86L1407.50 42.77L1407.82 42.69L1408.14 42.61L1408.46 42.54L1408.78 42.46L1409.10 42.39L1409.42 42.33L1409.74 42.27L1410.06 42.22L1410.38 42.17L1410.70 42.13L1411.02 42.10L1411.34 42.08L1411.66 42.06L1411.98 42.05L1412.30 42.04L1412.62 42.05L1412.94 42.06L1413.26 42.07L1413.58 42.09L1413.90 42.12L1414.22 42.15L1414.54 42.18L1414.86 42.22L1415.18 42.26L1415.50 42.30L1415.82 42.35L1416.14 42.39L1416.46 42.43L1416.78 42.48L1417.10 42.52L1417.42 42.56L1417.74 42.59L1418.06 42.63L1418.38 42.66L1418.70 42.68L1419.02 42.71L1419.34 42.72L1419.66 42.74L1419.98 42.74L1420.30 42.75L1420.62 42.74L1420.94 42.74L1421.26 42.72L1421.58 42.71L1421.90 42.69L1422.22 42.66L1422.54 42.63L1422.86 42.60L1423.18 42.57L1423.50 42.53L1423.82 42.49L1424.14 42.45L1424.46 42.41L1424.78 42.37L1425.10 42.32L1425.42 42.28L1425.74 42.24L1426.06 42.20L1426.38 42.17L1426.70 42.13L1427.02 42.10L1427.34 42.07L1427.66 42.04L1427.98 42.01L1428.30 41.99L1428.62 41.98L1428.94 41.96L1429.26 41.95L1429.58 41.95L1429.90 41.94L1430.22 41.94L1430.54 41.95L1430.86 41.95L1431.18 41.96L1431.50 41.97L1431.82 41.99L1432.14 42.01L1432.46 42.02L1432.78 42.04L1433.11 42.06L1433.43 42.08L1433.75 42.10L1434.07 42.13L1434.39 42.15L1434.71 42.17L1435.03 42.19L1435.35 42.20L1435.67 42.22L1435.99 42.24L1436.31 42.25L1436.63 42.26L1436.95 42.27L1437.27 42.28L1437.59 42.28L1437.91 42.28L1438.23 42.28L1438.55 42.28L1438.87 42.27L1439.19 42.26L1439.51 42.25L1439.83 42.24L1440.15 42.23L1440.47 42.21L1440.79 42.20L1441.11 42.18L1441.43 42.16L1441.75 42.14L1442.07 42.12L1442.39 42.10L1442.71 42.08L1443.03 42.06L1443.35 42.04L1443.67 42.02L1443.99 42.00L1444.31 41.99L1444.63 41.97L1444.95 41.95L1445.27 41.94L1445.59 41.93L1445.91 41.92L1446.23 41.91L1446.55 41.90L1446.87 41.90L1447.19 41.89L1447.51 41.89L1447.83 41.89L1448.15 41.89L1448.47 41.89L1448.79 41.90L1449.11 41.90L1449.43 41.91L1449.75 41.92L1450.07 41.93L1450.39 41.93L1450.71 41.94L1451.03 41.95L1451.35 41.96L1451.67 41.97L1451.99 41.98L1452.31 41.99L1452.63 42.00L1452.95 42.01L1453.27 42.02L1453.59 42.02L1453.91 42.03L1454.23 42.04L1454.55 42.04L1454.87 42.04L1455.19 42.05L1455.51 42.05L1455.83 42.05L1456.15 42.05L1456.47 42.04L1456.79 42.04L1457.11 42.04L1457.43 42.03L1457.75 42.02L1458.07 42.02L1458.39 42.01L1458.71 42.00L1459.03 41.99L1459.35 41.98L1459.67 41.97L1459.99 41.97L1460.31 41.96L1460.63 41.95L1460.95 41.94L1461.27 41.93L1461.59 41.92L1461.91 41.91L1462.23 41.90L1462.55 41.90L1462.87 41.89L1463.19 41.88L1463.51 41.88L1463.83 41.88L1464.15 41.87L1464.47 41.87L1464.80 41.87L1465.12 41.87L1465.44 41.87L1465.76 41.87L1466.08 41.87L1466.40 41.87L1466.72 41.87L1467.04 41.87L1467.36 41.88L1467.68 41.88L1468.00 41.88L1468.32 41.89L1468.64 41.89L1468.96 41.90L1469.28 41.90L1469.60 41.91L1469.92 41.91L1470.24 41.91L1470.56 41.92L1470.88 41.92L1471.20 41.92L1471.52 41.93L1471.84 41.93L1472.16 41.93L1472.48 41.93L1472.80 41.93L1473.12 41.93L1473.44 41.93L1473.76 41.93L1474.08 41.93L1474.40 41.93L1474.72 41.93L1475.04 41.93L1475.36 41.92L1475.68 41.92L1476.00 41.92L1476.32 41.92L1476.64 41.91L1476.96 41.91L1477.28 41.90L1477.60 41.90L1477.92 41.90L1478.24 41.89L1478.56 41.89L1478.88 41.88L1479.20 41.88L1479.52 41.88L1479.84 41.87L1480.16 41.87L1480.48 41.87L1480.80 41.86" stroke="#009e73"/>
<path d="M840.60 41.79L840.92 41.79L841.24 41.79L841.56 41.80L841.88 41.80L842.20 41.81L842.52 41.81L842.84 41.81L843.16 41.82L843.48 41.82L843.80 41.82L844.12 41.83L844.44 41.83L844.76 41.83L845.08 41.83L845.40 41.84L845.72 41.84L846.04 41.84L846.36 41.84L846.68 41.84L847.00 41.84L847.32 41.83L847.64 41.83L847.96 41.83L848.28 41.83L848.60 41.82L848.92 41.82L849.24 41.82L849.56 41.81L849.88 41.81L850.20 41.80L850.52 41.80L850.84 41.79L851.16 41.79L851.48 41.79L851.80 41.78L852.12 41.78L852.44 41.78L852.76 41.77L853.08 41.77L853.40 41.77L853.72 41.77L854.04 41.77L854.36 41.77L854.68 41.77L855.00 41.77L855.32 41.77L855.64 41.78L855.96 41.78L856.28 41.79L856.61 41.79L856.93 41.80L857.25 41.81L857.57 41.81L857.89 41.82L858.21 41.83L858.53 41.84L858.85 41.85L859.17 41.86L859.49 41.87L859.81 41.88L860.13 41.89L860.45 41.89L860.77 41.90L861.09 41.91L861.41 41.92L861.73 41.93L862.05 41.93L862.37 41.94L862.69 41.94L863.01 41.94L863.33 41.95L863.65 41.95L863.97 41.95L864.29 41.95L864.61 41.94L864.93 41.94L865.25 41.94L865.57 41.93L865.89 41.93L866.21 41.92L866.53 41.91L866.85 41.90L867.17 41.89L867.49 41.88L867.81 41.87L868.13 41.86L868.45 41.85L868.77 41.84L869.09 41.83L869.41 41.83L869.73 41.82L870.05 41.81L870.37 41.80L870.69 41.80L871.01 41.79L871.33 41.79L871.65 41.79L871.97 41.79L872.29 41.79L872.61 41.80L872.93 41.80L873.25 41.81L873.57 41.82L873.89 41.83L874.21 41.84L874.53 41.85L874.85 41.87L875.17 41.88L875.49 41.90L875.81 41.92L876.13 41.94L876.45 41.96L876.77 41.98L877.09 42.00L877.41 42.02L877.73 42.04L878.05 42.06L878.37 42.08L878.69 42.09L879.01 42.11L879.33 42.12L879.65 42.14L879.97 42.15L880.29 42.16L880.61 42.17L880.93 42.17L881.25 42.18L881.57 42.18L881.89 42.17L882.21 42.17L882.53 42.16L882.85 42.15L883.17 42.14L883.49 42.13L883.81 42.12L884.13 42.10L884.45 42.08L884.77 42.06L885.09 42.04L885.41 42.02L885.73 42.00L886.05 41.98L886.37 41.96L886.69 41.94L887.01 41.92L887.33 41.90L887.65 41.88L887.97 41.87L888.29 41.86L888.62 41.85L888.94 41.84L889.26 41.84L889.58 41.84L889.90 41.84L890.22 41.85L890.54 41.86L890.86 41.87L891.18 41.89L891.50 41.91L891.82 41.93L892.14 41.96L892.46 41.99L892.78 42.02L893.10 42.06L893.42 42.09L893.74 42.13L894.06 42.17L894.38 42.21L894.70 42.26L895.02 42.30L895.34 42.34L895.66 42.38L895.98 42.42L896.30 42.45L896.62 42.49L896.94 42.52L897.26 42.55L897.58 42.57L897.90 42.59L898.22 42.61L898.54 42.62L898.86 42.63L899.18 42.63L899.50 42.63L899.82 42.62L900.14 42.61L900.46 42.59L900.78 42.57L901.10 42.54L901.42 42.51L901.74 42.48L902.06 42.44L902.38 42.40L902.70 42.36L903.02 42.32L903.34 42.28L903.66 42.23L903.98 42.19L904.30 42.15L904.62 42.11L904.94 42.07L905.26 42.03L905.58 42.00L905.90 41.98L906.22 41.96L906.54 41.94L906.86 41.93L907.18 41.93L907.50 41.93L907.82 41.94L908.14 41.96L908.46 41.98L908.78 42.01L909.10 42.05L909.42 42.10L909.74 42.15L910.06 42.21L910.38 42.27L910.70 42.34L911.02 42.41L911.34 42.49L911.66 42.57L911.98 42.65L912.30 42.73L912.62 42.81L912.94 42.89L913.26 42.97L913.58 43.05L913.90 43.12L914.22 43.19L914.54 43.25L914.86 43.31L915.18 43.36L915.50 43.40L915.82 43.43L916.14 43.46L916.46 43.47L916.78 43.48L917.10 43.48L917.42 43.46L917.74 43.44L918.06 43.41L918.38 43.37L918.70 43.32L919.02 43.26L919.34 43.20L919.66 43.13L919.98 43.05L920.30 42.97L920.62 42.89L920.95 42.80L921.27 42.72L921.59 42.63L921.91 42.55L922.23 42.47L922.55 42.39L922.87 42.32L923.19 42.26L923.51 42.21L923.83 42.16L924.15 42.13L924.47 42.10L924.79 42.09L925.11 42.09L925.43 42.11L925.75 42.14L926.07 42.18L926.39 42.23L926.71 42.30L927.03 42.38L927.35 42.48L927.67 42.58L927.99 42.70L928.31 42.83L928.63 42.96L928.95 43.10L929.27 43.25L929.59 43.40L929.91 43.55L930.23 43.71L930.55 43.86L930.87 44.01L931.19 44.15L931.51 44.29L931.83 44.42L932.15 44.54L932.47 44.65L932.79 44.75L933.11 44.83L933.43 44.89L933.75 44.94L934.07 44.97L934.39 44.99L934.71 44.99L935.03 44.97L935.35 44.93L935.67 44.87L935.99 44.80L936.31 44.71L936.63 44.60L936.95 44.49L937.27 44.36L937.59 44.22L937.91 44.07L938.23 43.92L938.55 43.76L938.87 43.60L939.19 43.44L939.51 43.28L939.83 43.13L940.15 42.99L940.47 42.85L940.79 42.73L941.11 42.63L941.43 42.54L941.75 42.47L942.07 42.42L942.39 42.39L942.71 42.39L943.03 42.40L943.35 42.45L943.67 42.51L943.99 42.61L944.31 42.72L944.63 42.86L944.95 43.03L945.27 43.21L945.59 43.41L945.91 43.64L946.23 43.87L946.55 44.12L946.87 44.39L947.19 44.65L947.51 44.93L947.83 45.20L948.15 45.48L948.47 45.74L948.79 46.00L949.11 46.25L949.43 46.49L949.75 46.70L950.07 46.90L950.39 47.08L950.71 47.23L951.03 47.35L951.35 47.44L951.67 47.51L951.99 47.54L952.31 47.54L952.63 47.51L952.96 47.44L953.28 47.35L953.60 47.23L953.92 47.07L954.24 46.89L954.56 46.69L954.88 46.47L955.20 46.22L955.52 45.96L955.84 45.69L956.16 45.41L956.48 45.13L956.80 44.84L957.12 44.56L957.44 44.29L957.76 44.03L958.08 43.79L958.40 43.57L958.72 43.38L959.04 43.21L959.36 43.08L959.68 42.98L960.00 42.91L960.32 42.89L960.64 42.91L960.96 42.97L961.28 43.07L961.60 43.22L961.92 43.40L962.24 43.63L962.56 43.90L962.88 44.21L963.20 44.55L963.52 44.92L963.84 45.32L964.16 45.74L964.48 46.18L964.80 46.64L965.12 47.10L965.44 47.57L965.76 48.03L966.08 48.49L966.40 48.94L966.72 49.36L967.04 49.76L967.36 50.14L967.68 50.48L968.00 50.78L968.32 51.04L968.64 51.26L968.96 51.43L969.28 51.54L969.60 51.61L969.92 51.62L970.24 51.58L970.56 51.48L970.88 51.33L971.20 51.13L971.52 50.89L971.84 50.59L972.16 50.26L972.48 49.88L972.80 49.48L973.12 49.04L973.44 48.59L973.76 48.12L974.08 47.64L974.40 47.16L974.72 46.69L975.04 46.23L975.36 45.79L975.68 45.37L976.00 44.99L976.32 44.65L976.64 44.36L976.96 44.11L977.28 43.93L977.60 43.80L977.92 43.74L978.24 43.75L978.56 43.83L978.88 43.97L979.20 44.19L979.52 44.48L979.84 44.83L980.16 45.26L980.48 45.74L980.80 46.28L981.12 46.87L981.44 47.51L981.76 48.18L982.08 48.89L982.40 49.63L982.72 50.37L983.04 51.13L983.36 51.88L983.68 52.62L984.00 53.35L984.32 54.04L984.64 54.70L984.97 55.31L985.29 55.87L985.61 56.37L985.93 56.80L986.25 57.16L986.57 57.44L986.89 57.65L987.21 57.77L987.53 57.80L987.85 57.75L988.17 57.61L988.49 57.39L988.81 57.09L989.13 56.71L989.45 56.25L989.77 55.72L990.09 55.14L990.41 54.50L990.73 53.82L991.05 53.10L991.37 52.35L991.69 51.59L992.01 50.82L992.33 50.06L992.65 49.32L992.97 48.61L993.29 47.94L993.61 47.32L993.93 46.76L994.25 46.27L994.57 45.86L994.89 45.54L995.21 45.31L995.53 45.19L995.85 45.17L996.17 45.26L996.49 45.46L996.81 45.77L997.13 46.19L997.45 46.71L997.77 47.34L998.09 48.07L998.41 48.89L998.73 49.79L999.05 50.76L999.37 51.80L999.69 52.88L1000.01 54.00L1000.33 55.15L1000.65 56.31L1000.97 57.47L1001.29 58.62L1001.61 59.73L1001.93 60.80L1002.25 61.82L1002.57 62.77L1002.89 63.64L1003.21 64.42L1003.53 65.10L1003.85 65.67L1004.17 66.12L1004.49 66.46L1004.81 66.66L1005.13 66.74L1005.45 66.69L1005.77 66.50L1006.09 66.19L1006.41 65.75L1006.73 65.20L1007.05 64.53L1007.37 63.75L1007.69 62.89L1008.01 61.93L1008.33 60.91L1008.65 59.83L1008.97 58.71L1009.29 57.57L1009.61 56.41L1009.93 55.26L1010.25 54.13L1010.57 53.04L1010.89 52.01L1011.21 51.05L1011.53 50.19L1011.85 49.42L1012.17 48.78L1012.49 48.27L1012.81 47.89L1013.13 47.67L1013.45 47.60L1013.77 47.69L1014.09 47.95L1014.41 48.38L1014.73 48.97L1015.05 49.72L1015.37 50.62L1015.69 51.67L1016.01 52.85L1016.33 54.15L1016.65 55.57L1016.98 57.07L1017.30 58.65L1017.62 60.29L1017.94 61.97L1018.26 63.67L1018.58 65.37L1018.90 67.04L1019.22 68.68L1019.54 70.25L1019.86 71.74L1020.18 73.14L1020.50 74.42L1020.82 75.57L1021.14 76.58L1021.46 77.44L1021.78 78.12L1022.10 78.63L1022.42 78.97L1022.74 79.11L1023.06 79.07L1023.38 78.84L1023.70 78.43L1024.02 77.84L1024.34 77.07L1024.66 76.15L1024.98 75.07L1025.30 73.85L1025.62 72.52L1025.94 71.08L1026.26 69.55L1026.58 67.96L1026.90 66.33L1027.22 64.68L1027.54 63.04L1027.86 61.42L1028.18 59.86L1028.50 58.37L1028.82 56.99L1029.14 55.73L1029.46 54.62L1029.78 53.67L1030.10 52.90L1030.42 52.33L1030.74 51.97L1031.06 51.84L1031.38 51.93L1031.70 52.26L1032.02 52.82L1032.34 53.62L1032.66 54.63L1032.98 55.87L1033.30 57.32L1033.62 58.95L1033.94 60.76L1034.26 62.71L1034.58 64.80L1034.90 67.00L1035.22 69.28L1035.54 71.61L1035.86 73.97L1036.18 76.33L1036.50 78.65L1036.82 80.92L1037.14 83.11L1037.46 85.19L1037.78 87.13L1038.10 88.92L1038.42 90.54L1038.74 91.95L1039.06 93.16L1039.38 94.13L1039.70 94.88L1040.02 95.37L1040.34 95.62L1040.66 95.61L1040.98 95.35L1041.30 94.84L1041.62 94.08L1041.94 93.10L1042.26 91.89L1042.58 90.48L1042.90 88.88L1043.22 87.11L1043.54 85.20L1043.86 83.17L1044.18 81.06L1044.50 78.88L1044.82 76.67L1045.14 74.46L1045.46 72.29L1045.78 70.19L1046.10 68.18L1046.42 66.31L1046.74 64.60L1047.06 63.09L1047.38 61.79L1047.70 60.74L1048.02 59.95L1048.34 59.44L1048.66 59.24L1048.99 59.33L1049.31 59.75L1049.63 60.47L1049.95 61.51L1050.27 62.85L1050.59 64.48L1050.91 66.39L1051.23 68.55L1051.55 70.94L1051.87 73.53L1052.19 76.30L1052.51 79.20L1052.83 82.21L1053.15 85.29L1053.47 88.40L1053.79 91.51L1054.11 94.57L1054.43 97.57L1054.75 100.45L1055.07 103.18L1055.39 105.74L1055.71 108.10L1056.03 110.23L1056.35 112.10L1056.67 113.70L1056.99 115.01L1057.31 116.02L1057.63 116.72L1057.95 117.09L1058.27 117.14L1058.59 116.87L1058.91 116.28L1059.23 115.38L1059.55 114.19L1059.87 112.71L1060.19 110.98L1060.51 109.00L1060.83 106.81L1061.15 104.44L1061.47 101.91L1061.79 99.27L1062.11 96.55L1062.43 93.78L1062.75 91.01L1063.07 88.29L1063.39 85.64L1063.71 83.12L1064.03 80.76L1064.35 78.60L1064.67 76.69L1064.99 75.05L1065.31 73.72L1065.63 72.73L1065.95 72.09L1066.27 71.83L1066.59 71.96L1066.91 72.48L1067.23 73.40L1067.55 74.72L1067.87 76.42L1068.19 78.48L1068.51 80.89L1068.83 83.62L1069.15 86.64L1069.47 89.90L1069.79 93.38L1070.11 97.02L1070.43 100.79L1070.75 104.65L1071.07 108.54L1071.39 112.41L1071.71 116.23L1072.03 119.95L1072.35 123.53L1072.67 126.93L1072.99 130.11L1073.31 133.03L1073.63 135.67L1073.95 138.00L1074.27 140.00L1074.59 141.65L1074.91 142.93L1075.23 143.83L1075.55 144.35L1075.87 144.49L1076.19 144.24L1076.51 143.61L1076.83 142.61L1077.15 141.27L1077.47 139.58L1077.79 137.59L1078.11 135.31L1078.43 132.78L1078.75 130.03L1079.07 127.10L1079.39 124.03L1079.71 120.86L1080.03 117.63L1080.35 114.40L1080.67 111.22L1081.00 108.13L1081.32 105.19L1081.64 102.43L1081.96 99.92L1082.28 97.70L1082.60 95.80L1082.92 94.26L1083.24 93.13L1083.56 92.42L1083.88 92.16L1084.20 92.37L1084.52 93.04L1084.84 94.19L1085.16 95.80L1085.48 97.87L1085.80 100.36L1086.12 103.27L1086.44 106.54L1086.76 110.14L1087.08 114.04L1087.40 118.17L1087.72 122.49L1088.04 126.96L1088.36 131.50L1088.68 136.08L1089.00 140.63L1089.32 145.10L1089.64 149.45L1089.96 153.63L1090.28 157.58L1090.60 161.27L1090.92 164.67L1091.24 167.74L1091.56 170.45L1091.88 172.78L1092.20 174.71L1092.52 176.22L1092.84 177.31L1093.16 177.97L1093.48 178.20L1093.80 178.01L1094.12 177.39L1094.44 176.37L1094.76 174.96L1095.08 173.18L1095.40 171.07L1095.72 168.64L1096.04 165.93L1096.36 162.98L1096.68 159.83L1097.00 156.53L1097.32 153.12L1097.64 149.65L1097.96 146.18L1098.28 142.76L1098.60 139.44L1098.92 136.29L1099.24 133.34L1099.56 130.67L1099.88 128.31L1100.20 126.31L1100.52 124.73L1100.84 123.58L1101.16 122.91L1101.48 122.74L1101.80 123.08L1102.12 123.94L1102.44 125.33L1102.76 127.23L1103.08 129.63L1103.40 132.50L1103.72 135.80L1104.04 139.51L1104.36 143.58L1104.68 147.95L1105.00 152.57L1105.32 157.39L1105.64 162.34L1105.96 167.36L1106.28 172.40L1106.60 177.40L1106.92 182.29L1107.24 187.03L1107.56 191.57L1107.88 195.86L1108.20 199.86L1108.52 203.53L1108.84 206.84L1109.16 209.77L1109.48 212.28L1109.80 214.37L1110.12 216.03L1110.44 217.24L1110.76 218.00L1111.08 218.32L1111.40 218.20L1111.72 217.65L1112.04 216.69L1112.36 215.34L1112.68 213.62L1113.01 211.55L1113.33 209.17L1113.65 206.52L1113.97 203.62L1114.29 200.52L1114.61 197.28L1114.93 193.93L1115.25 190.52L1115.57 187.12L1115.89 183.77L1116.21 180.54L1116.53 177.47L1116.85 174.62L1117.17 172.05L1117.49 169.81L1117.81 167.94L1118.13 166.50L1118.45 165.51L1118.77 165.01L1119.09 165.02L1119.41 165.56L1119.73 166.63L1120.05 168.23L1120.37 170.36L1120.69 172.99L1121.01 176.09L1121.33 179.64L1121.65 183.58L1121.97 187.87L1122.29 192.45L1122.61 197.27L1122.93 202.26L1123.25 207.37L1123.57 212.53L1123.89 217.69L1124.21 222.77L1124.53 227.74L1124.85 232.52L1125.17 237.09L1125.49 241.39L1125.81 245.38L1126.13 249.04L1126.45 252.33L1126.77 255.23L1127.09 257.72L1127.41 259.80L1127.73 261.45L1128.05 262.68L1128.37 263.48L1128.69 263.85L1129.01 263.82L1129.33 263.39L1129.65 262.57L1129.97 261.39L1130.29 259.88L1130.61 258.05L1130.93 255.94L1131.25 253.58L1131.57 251.01L1131.89 248.26L1132.21 245.38L1132.53 242.41L1132.85 239.41L1133.17 236.41L1133.49 233.48L1133.81 230.65L1134.13 227.99L1134.45 225.55L1134.77 223.37L1135.09 221.51L1135.41 220.00L1135.73 218.89L1136.05 218.22L1136.37 218.01L1136.69 218.27L1137.01 219.04L1137.33 220.30L1137.65 222.06L1137.97 224.31L1138.29 227.01L1138.61 230.16L1138.93 233.70L1139.25 237.59L1139.57 241.79L1139.89 246.25L1140.21 250.90L1140.53 255.69L1140.85 260.57L1141.17 265.46L1141.49 270.32L1141.81 275.09L1142.13 279.72L1142.45 284.16L1142.77 288.37L1143.09 292.32L1143.41 295.97L1143.73 299.29L1144.05 302.27L1144.37 304.90L1144.69 307.15L1145.02 309.02L1145.34 310.52L1145.66 311.64L1145.98 312.38L1146.30 312.77L1146.62 312.81L1146.94 312.51L1147.26 311.89L1147.58 310.98L1147.90 309.78L1148.22 308.34L1148.54 306.67L1148.86 304.80L1149.18 302.77L1149.50 300.61L1149.82 298.35L1150.14 296.03L1150.46 293.69L1150.78 291.37L1151.10 289.12L1151.42 286.97L1151.74 284.98L1152.06 283.18L1152.38 281.61L1152.70 280.32L1153.02 279.34L1153.34 278.70L1153.66 278.44L1153.98 278.58L1154.30 279.13L1154.62 280.10L1154.94 281.49L1155.26 283.30L1155.58 285.52L1155.90 288.13L1156.22 291.09L1156.54 294.38L1156.86 297.95L1157.18 301.76L1157.50 305.76L1157.82 309.91L1158.14 314.14L1158.46 318.41L1158.78 322.67L1159.10 326.87L1159.42 330.97L1159.74 334.91L1160.06 338.68L1160.38 342.22L1160.70 345.52L1161.02 348.55L1161.34 351.29L1161.66 353.73L1161.98 355.87L1162.30 357.70L1162.62 359.22L1162.94 360.43L1163.26 361.34L1163.58 361.96L1163.90 362.31L1164.22 362.38L1164.54 362.21L1164.86 361.80L1165.18 361.17L1165.50 360.35L1165.82 359.36L1166.14 358.21L1166.46 356.92L1166.78 355.53L1167.10 354.06L1167.42 352.53L1167.74 350.98L1168.06 349.43L1168.38 347.91L1168.70 346.45L1169.02 345.09L1169.34 343.85L1169.66 342.78L1169.98 341.90L1170.30 341.23L1170.62 340.82L1170.94 340.67L1171.26 340.82L1171.58 341.27L1171.90 342.05L1172.22 343.15L1172.54 344.57L1172.86 346.31L1173.18 348.35L1173.50 350.68L1173.82 353.27L1174.14 356.10L1174.46 359.12L1174.78 362.31L1175.10 365.63L1175.42 369.02L1175.74 372.46L1176.06 375.89L1176.38 379.29L1176.70 382.61L1177.03 385.81L1177.35 388.88L1177.67 391.77L1177.99 394.48L1178.31 396.97L1178.63 399.24L1178.95 401.28L1179.27 403.08L1179.59 404.64L1179.91 405.96L1180.23 407.05L1180.55 407.92L1180.87 408.57L1181.19 409.02L1181.51 409.28L1181.83 409.36L1182.15 409.28L1182.47 409.05L1182.79 408.69L1183.11 408.21L1183.43 407.63L1183.75 406.96L1184.07 406.23L1184.39 405.44L1184.71 404.62L1185.03 403.77L1185.35 402.93L1185.67 402.11L1185.99 401.32L1186.31 400.60L1186.63 399.95L1186.95 399.41L1187.27 398.98L1187.59 398.70L1187.91 398.57L1188.23 398.62L1188.55 398.87L1188.87 399.31L1189.19 399.98L1189.51 400.86L1189.83 401.97L1190.15 403.30L1190.47 404.84L1190.79 406.58L1191.11 408.52L1191.43 410.62L1191.75 412.87L1192.07 415.24L1192.39 417.71L1192.71 420.23L1193.03 422.79L1193.35 425.36L1193.67 427.89L1193.99 430.37L1194.31 432.77L1194.63 435.06L1194.95 437.23L1195.27 439.25L1195.59 441.12L1195.91 442.82L1196.23 444.35L1196.55 445.71L1196.87 446.89L1197.19 447.90L1197.51 448.74L1197.83 449.43L1198.15 449.97L1198.47 450.37L1198.79 450.65L1199.11 450.81L1199.43 450.88L1199.75 450.85L1200.07 450.75L1200.39 450.58L1200.71 450.36L1201.03 450.09L1201.35 449.79L1201.67 449.48L1201.99 449.15L1202.31 448.81L1202.63 448.49L1202.95 448.18L1203.27 447.90L1203.59 447.66L1203.91 447.47L1204.23 447.34L1204.55 447.28L1204.87 447.31L1205.19 447.43L1205.51 447.65L1205.83 447.99L1206.15 448.45L1206.47 449.04L1206.79 449.76L1207.11 450.62L1207.43 451.62L1207.75 452.75L1208.07 454.01L1208.39 455.39L1208.71 456.87L1209.04 458.45L1209.36 460.11L1209.68 461.83L1210.00 463.59L1210.32 465.38L1210.64 467.16L1210.96 468.92L1211.28 470.64L1211.60 472.31L1211.92 473.90L1212.24 475.40L1212.56 476.80L1212.88 478.09L1213.20 479.26L1213.52 480.31L1213.84 481.24L1214.16 482.04L1214.48 482.73L1214.80 483.31L1215.12 483.78L1215.44 484.15L1215.76 484.43L1216.08 484.64L1216.40 484.78L1216.72 484.86L1217.04 484.89L1217.36 484.89L1217.68 484.86L1218.00 484.81L1218.32 484.74L1218.64 484.67L1218.96 484.60L1219.28 484.53L1219.60 484.48L1219.92 484.44L1220.24 484.42L1220.56 484.43L1220.88 484.47L1221.20 484.54L1221.52 484.64L1221.84 484.79L1222.16 484.99L1222.48 485.24L1222.80 485.54L1223.12 485.91L1223.44 486.35L1223.76 486.85L1224.08 487.43L1224.40 488.08L1224.72 488.80L1225.04 489.60L1225.36 490.47L1225.68 491.41L1226.00 492.41L1226.32 493.46L1226.64 494.56L1226.96 495.70L1227.28 496.85L1227.60 498.02L1227.92 499.18L1228.24 500.33L1228.56 501.46L1228.88 502.54L1229.20 503.57L1229.52 504.55L1229.84 505.45L1230.16 506.28L1230.48 507.03L1230.80 507.70L1231.12 508.29L1231.44 508.80L1231.76 509.23L1232.08 509.58L1232.40 509.87L1232.72 510.09L1233.04 510.26L1233.36 510.38L1233.68 510.46L1234.00 510.51L1234.32 510.54L1234.64 510.55L1234.96 510.55L1235.28 510.55L1235.60 510.55L1235.92 510.56L1236.24 510.58L1236.56 510.61L1236.88 510.66L1237.20 510.73L1237.52 510.82L1237.84 510.93L1238.16 511.06L1238.48 511.22L1238.80 511.41L1239.12 511.62L1239.44 511.85L1239.76 512.12L1240.08 512.41L1240.40 512.74L1240.72 513.10L1241.05 513.49L1241.37 513.92L1241.69 514.39L1242.01 514.89L1242.33 515.43L1242.65 516.00L1242.97 516.61L1243.29 517.25L1243.61 517.91L1243.93 518.60L1244.25 519.31L1244.57 520.02L1244.89 520.75L1245.21 521.46L1245.53 522.17L1245.85 522.86L1246.17 523.53L1246.49 524.16L1246.81 524.76L1247.13 525.31L1247.45 525.82L1247.77 526.28L1248.09 526.69L1248.41 527.04L1248.73 527.34L1249.05 527.60L1249.37 527.80L1249.69 527.96L1250.01 528.09L1250.33 528.18L1250.65 528.23L1250.97 528.27L1251.29 528.29L1251.61 528.29L1251.93 528.29L1252.25 528.29L1252.57 528.29L1252.89 528.30L1253.21 528.31L1253.53 528.34L1253.85 528.38L1254.17 528.44L1254.49 528.52L1254.81 528.61L1255.13 528.72L1255.45 528.85L1255.77 529.00L1256.09 529.16L1256.41 529.34L1256.73 529.54L1257.05 529.75L1257.37 529.97L1257.69 530.22L1258.01 530.48L1258.33 530.75L1258.65 531.04L1258.97 531.35L1259.29 531.68L1259.61 532.02L1259.93 532.37L1260.25 532.74L1260.57 533.12L1260.89 533.52L1261.21 533.93L1261.53 534.34L1261.85 534.76L1262.17 535.18L1262.49 535.59L1262.81 536.01L1263.13 536.41L1263.45 536.79L1263.77 537.16L1264.09 537.51L1264.41 537.83L1264.73 538.13L1265.05 538.40L1265.37 538.64L1265.69 538.84L1266.01 539.02L1266.33 539.17L1266.65 539.28L1266.97 539.38L1267.29 539.44L1267.61 539.49L1267.93 539.52L1268.25 539.53L1268.57 539.53L1268.89 539.53L1269.21 539.52L1269.53 539.51L1269.85 539.50L1270.17 539.50L1270.49 539.50L1270.81 539.52L1271.13 539.54L1271.45 539.58L1271.77 539.63L1272.09 539.69L1272.41 539.76L1272.74 539.85L1273.06 539.94L1273.38 540.05L1273.70 540.17L1274.02 540.30L1274.34 540.44L1274.66 540.59L1274.98 540.74L1275.30 540.91L1275.62 541.08L1275.94 541.26L1276.26 541.44L1276.58 541.63L1276.90 541.83L1277.22 542.03L1277.54 542.24L1277.86 542.46L1278.18 542.68L1278.50 542.90L1278.82 543.13L1279.14 543.36L1279.46 543.58L1279.78 543.81L1280.10 544.04L1280.42 544.25L1280.74 544.47L1281.06 544.67L1281.38 544.86L1281.70 545.04L1282.02 545.21L1282.34 545.36L1282.66 545.49L1282.98 545.61L1283.30 545.71L1283.62 545.80L1283.94 545.86L1284.26 545.92L1284.58 545.96L1284.90 545.98L1285.22 546.00L1285.54 546.00L1285.86 546.00L1286.18 546.00L1286.50 545.99L1286.82 545.98L1287.14 545.97L1287.46 545.96L1287.78 545.96L1288.10 545.96L1288.42 545.97L1288.74 545.99L1289.06 546.01L1289.38 546.04L1289.70 546.08L1290.02 546.12L1290.34 546.18L1290.66 546.23L1290.98 546.30L1291.30 546.37L1291.62 546.45L1291.94 546.53L1292.26 546.62L1292.58 546.71L1292.90 546.80L1293.22 546.90L1293.54 547.00L1293.86 547.10L1294.18 547.21L1294.50 547.31L1294.82 547.42L1295.14 547.53L1295.46 547.65L1295.78 547.76L1296.10 547.88L1296.42 548.00L1296.74 548.11L1297.06 548.23L1297.38 548.34L1297.70 548.46L1298.02 548.56L1298.34 548.67L1298.66 548.77L1298.98 548.87L1299.30 548.95L1299.62 549.03L1299.94 549.11L1300.26 549.17L1300.58 549.23L1300.90 549.28L1301.22 549.32L1301.54 549.35L1301.86 549.37L1302.18 549.39L1302.50 549.40L1302.82 549.41L1303.14 549.41L1303.46 549.41L1303.78 549.40L1304.10 549.40L1304.42 549.39L1304.74 549.38L1305.07 549.38L1305.39 549.38L1305.71 549.38L1306.03 549.38L1306.35 549.39L1306.67 549.40L1306.99 549.42L1307.31 549.44L1307.63 549.46L1307.95 549.49L1308.27 549.52L1308.59 549.55L1308.91 549.59L1309.23 549.63L1309.55 549.67L1309.87 549.71L1310.19 549.76L1310.51 549.81L1310.83 549.86L1311.15 549.91L1311.47 549.96L1311.79 550.01L1312.11 550.06L1312.43 550.12L1312.75 550.17L1313.07 550.22L1313.39 550.28L1313.71 550.34L1314.03 550.39L1314.35 550.45L1314.67 550.50L1314.99 550.56L1315.31 550.61L1315.63 550.66L1315.95 550.71L1316.27 550.76L1316.59 550.80L1316.91 550.84L1317.23 550.88L1317.55 550.92L1317.87 550.95L1318.19 550.98L1318.51 551.00L1318.83 551.02L1319.15 551.03L1319.47 551.04L1319.79 551.05L1320.11 551.06L1320.43 551.06L1320.75 551.06L1321.07 551.06L1321.39 551.06L1321.71 551.06L1322.03 551.05L1322.35 551.05L1322.67 551.05L1322.99 551.05L1323.31 551.05L1323.63 551.05L1323.95 551.05L1324.27 551.06L1324.59 551.06L1324.91 551.07L1325.23 551.08L1325.55 551.09L1325.87 551.11L1326.19 551.12L1326.51 551.14L1326.83 551.16L1327.15 551.18L1327.47 551.20L1327.79 551.22L1328.11 551.24L1328.43 551.26L1328.75 551.28L1329.07 551.31L1329.39 551.33L1329.71 551.35L1330.03 551.38L1330.35 551.40L1330.67 551.43L1330.99 551.45L1331.31 551.48L1331.63 551.50L1331.95 551.53L1332.27 551.55L1332.59 551.58L1332.91 551.60L1333.23 551.63L1333.55 551.65L1333.87 551.67L1334.19 551.69L1334.51 551.71L1334.83 551.73L1335.15 551.74L1335.47 551.76L1335.79 551.77L1336.11 551.78L1336.43 551.79L1336.76 551.80L1337.08 551.80L1337.40 551.81L1337.72 551.81L1338.04 551.81L1338.36 551.82L1338.68 551.82L1339.00 551.82L1339.32 551.81L1339.64 551.81L1339.96 551.81L1340.28 551.81L1340.60 551.81L1340.92 551.81L1341.24 551.81L1341.56 551.81L1341.88 551.81L1342.20 551.82L1342.52 551.82L1342.84 551.82L1343.16 551.83L1343.48 551.83L1343.80 551.84L1344.12 551.85L1344.44 551.85L1344.76 551.86L1345.08 551.87L1345.40 551.88L1345.72 551.89L1346.04 551.90L1346.36 551.91L1346.68 551.92L1347.00 551.93L1347.32 551.94L1347.64 551.95L1347.96 551.96L1348.28 551.97L1348.60 551.98L1348.92 551.99L1349.24 552.00L1349.56 552.01L1349.88 552.02L1350.20 552.03L1350.52 552.05L1350.84 552.06L1351.16 552.07L1351.48 552.08L1351.80 552.08L1352.12 552.09L1352.44 552.10L1352.76 552.11L1353.08 552.12L1353.40 552.12L1353.72 552.13L1354.04 552.13L1354.36 552.14L1354.68 552.14L1355.00 552.14L1355.32 552.14L1355.64 552.15L1355.96 552.15L1356.28 552.15L1356.60 552.15L1356.92 552.15L1357.24 552.15L1357.56 552.15L1357.88 552.15L1358.20 552.15L1358.52 552.15L1358.84 552.15L1359.16 552.15L1359.48 552.15L1359.80 552.15L1360.12 552.15L1360.44 552.15L1360.76 552.15L1361.08 552.15L1361.40 552.16L1361.72 552.16L1362.04 552.16L1362.36 552.16L1362.68 552.17L1363.00 552.17L1363.32 552.17L1363.64 552.18L1363.96 552.18L1364.28 552.19L1364.60 552.19L1364.92 552.19L1365.24 552.20L1365.56 552.20L1365.88 552.21L1366.20 552.21L1366.52 552.22L1366.84 552.22L1367.16 552.23L1367.48 552.23L1367.80 552.24L1368.12 552.24L1368.44 552.25L1368.76 552.25L1369.09 552.25L1369.41 552.26L1369.73 552.26L1370.05 552.27L1370.37 552.27L1370.69 552.27L1371.01 552.28L1371.33 552.28L1371.65 552.28L1371.97 552.28L1372.29 552.29L1372.61 552.29L1372.93 552.29L1373.25 552.29L1373.57 552.29L1373.89 552.29L1374.21 552.29L1374.53 552.29L1374.85 552.29L1375.17 552.29L1375.49 552.29L1375.81 552.29L1376.13 552.29L1376.45 552.29L1376.77 552.29L1377.09 552.29L1377.41 552.29L1377.73 552.29L1378.05 552.29L1378.37 552.29L1378.69 552.29L1379.01 552.29L1379.33 552.29L1379.65 552.30L1379.97 552.30L1380.29 552.30L1380.61 552.30L1380.93 552.30L1381.25 552.30L1381.57 552.30L1381.89 552.30L1382.21 552.31L1382.53 552.31L1382.85 552.31L1383.17 552.31L1383.49 552.31L1383.81 552.32L1384.13 552.32L1384.45 552.32L1384.77 552.32L1385.09 552.32L1385.41 552.33L1385.73 552.33L1386.05 552.33L1386.37 552.33L1386.69 552.33L1387.01 552.34L1387.33 552.34L1387.65 552.34L1387.97 552.34L1388.29 552.34L1388.61 552.35L1388.93 552.35L1389.25 552.35L1389.57 552.35L1389.89 552.35L1390.21 552.35L1390.53 552.35L1390.85 552.35L1391.17 552.35L1391.49 552.35L1391.81 552.35L1392.13 552.35L1392.45 552.35L1392.77 552.35L1393.09 552.35L1393.41 552.35L1393.73 552.35L1394.05 552.35L1394.37 552.35L1394.69 552.35L1395.01 552.35L1395.33 552.35L1395.65 552.35L1395.97 552.35L1396.29 552.35L1396.61 552.35L1396.93 552.36L1397.25 552.36L1397.57 552.36L1397.89 552.36L1398.21 552.36L1398.53 552.36L1398.85 552.36L1399.17 552.36L1399.49 552.36L1399.81 552.36L1400.13 552.36L1400.45 552.36L1400.78 552.36L1401.10 552.36L1401.42 552.36L1401.74 552.36L1402.06 552.37L1402.38 552.37L1402.70 552.37L1403.02 552.37L1403.34 552.37L1403.66 552.37L1403.98 552.37L1404.30 552.37L1404.62 552.37L1404.94 552.37L1405.26 552.37L1405.58 552.38L1405.90 552.38L1406.22 552.38L1406.54 552.38L1406.86 552.38L1407.18 552.38L1407.50 552.38L1407.82 552.38L1408.14 552.38L1408.46 552.38L1408.78 552.38L1409.10 552.38L1409.42 552.38L1409.74 552.38L1410.06 552.38L1410.38 552.38L1410.70 552.38L1411.02 552.38L1411.34 552.38L1411.66 552.38L1411.98 552.38L1412.30 552.38L1412.62 552.38L1412.94 552.38L1413.26 552.38L1413.58 552.38L1413.90 552.38L1414.22 552.38L1414.54 552.38L1414.86 552.38L1415.18 552.38L1415.50 552.38L1415.82 552.38L1416.14 552.38L1416.46 552.38L1416.78 552.38L1417.10 552.38L1417.42 552.38L1417.74 552.38L1418.06 552.38L1418.38 552.38L1418.70 552.39L1419.02 552.39L1419.34 552.39L1419.66 552.39L1419.98 552.39L1420.30 552.39L1420.62 552.39L1420.94 552.39L1421.26 552.39L1421.58 552.39L1421.90 552.39L1422.22 552.39L1422.54 552.39L1422.86 552.39L1423.18 552.39L1423.50 552.39L1423.82 552.39L1424.14 552.39L1424.46 552.39L1424.78 552.39L1425.10 552.39L1425.42 552.39L1425.74 552.39L1426.06 552.39L1426.38 552.39L1426.70 552.39L1427.02 552.39L1427.34 552.39L1427.66 552.39L1427.98 552.39L1428.30 552.39L1428.62 552.39L1428.94 552.39L1429.26 552.39L1429.58 552.39L1429.90 552.39L1430.22 552.39L1430.54 552.39L1430.86 552.39L1431.18 552.39L1431.50 552.39L1431.82 552.39L1432.14 552.39L1432.46 552.39L1432.78 552.39L1433.11 552.39L1433.43 552.39L1433.75 552.39L1434.07 552.39L1434.39 552.39L1434.71 552.40L1435.03 552.40L1435.35 552.40L1435.67 552.40L1435.99 552.40L1436.31 552.40L1436.63 552.40L1436.95 552.40L1437.27 552.40L1437.59 552.40L1437.91 552.40L1438.23 552.40L1438.55 552.40L1438.87 552.40L1439.19 552.40L1439.51 552.40L1439.83 552.40L1440.15 552.40L1440.47 552.40L1440.79 552.40L1441.11 552.40L1441.43 552.40L1441.75 552.40L1442.07 552.40L1442.39 552.40L1442.71 552.40L1443.03 552.40L1443.35 552.40L1443.67 552.40L1443.99 552.40L1444.31 552.40L1444.63 552.40L1444.95 552.40L1445.27 552.40L1445.59 552.40L1445.91 552.40L1446.23 552.40L1446.55 552.40L1446.87 552.40L1447.19 552.40L1447.51 552.40L1447.83 552.40L1448.15 552.40L1448.47 552.40L1448.79 552.40L1449.11 552.40L1449.43 552.40L1449.75 552.40L1450.07 552.40L1450.39 552.40L1450.71 552.40L1451.03 552.40L1451.35 552.40L1451.67 552.40L1451.99 552.40L1452.31 552.40L1452.63 552.40L1452.95 552.40L1453.27 552.40L1453.59 552.40L1453.91 552.40L1454.23 552.40L1454.55 552.40L1454.87 552.40L1455.19 552.40L1455.51 552.40L1455.83 552.40L1456.15 552.40L1456.47 552.40L1456.79 552.40L1457.11 552.40L1457.43 552.40L1457.75 552.40L1458.07 552.40L1458.39 552.40L1458.71 552.40L1459.03 552.40L1459.35 552.40L1459.67 552.40L1459.99 552.40L1460.31 552.40L1460.63 552.40L1460.95 552.40L1461.27 552.40L1461.59 552.40L1461.91 552.40L1462.23 552.40L1462.55 552.40L1462.87 552.40L1463.19 552.40L1463.51 552.40L1463.83 552.40L1464.15 552.40L1464.47 552.40L1464.80 552.40L1465.12 552.40L1465.44 552.40L1465.76 552.40L1466.08 552.40L1466.40 552.40L1466.72 552.40L1467.04 552.40L1467.36 552.40L1467.68 552.40L1468.00 552.40L1468.32 552.40L1468.64 552.40L1468.96 552.40L1469.28 552.40L1469.60 552.40L1469.92 552.40L1470.24 552.40L1470.56 552.40L1470.88 552.40L1471.20 552.40L1471.52 552.40L1471.84 552.40L1472.16 552.40L1472.48 552.40L1472.80 552.40L1473.12 552.40L1473.44 552.40L1473.76 552.40L1474.08 552.40L1474.40 552.40L1474.72 552.40L1475.04 552.40L1475.36 552.40L1475.68 552.40L1476.00 552.40L1476.32 552.40L1476.64 552.40L1476.96 552.40L1477.28 552.40L1477.60 552.40L1477.92 552.40L1478.24 552.40L1478.56 552.40L1478.88 552.40L1479.20 552.40L1479.52 552.40L1479.84 552.40L1480.16 552.40L1480.48 552.40L1480.80 552.40" stroke="#56b4e9"/>
<path d="M840.60 41.79L840.92 41.79L841.24 41.79L841.56 41.78L841.88 41.78L842.20 41.78L842.52 41.77L842.84 41.77L843.16 41.77L843.48 41.77L843.80 41.77L844.12 41.76L844.44 41.76L844.76 41.76L845.08 41.76L845.40 41.76L845.72 41.76L846.04 41.76L846.36 41.77L846.68 41.77L847.00 41.77L847.32 41.77L847.64 41.78L847.96 41.78L848.28 41.79L848.60 41.79L848.92 41.80L849.24 41.80L849.56 41.81L849.88 41.81L850.20 41.82L850.52 41.83L850.84 41.83L851.16 41.84L851.48 41.84L851.80 41.85L852.12 41.86L852.44 41.86L852.76 41.87L853.08 41.87L853.40 41.87L853.72 41.88L854.04 41.88L854.36 41.88L854.68 41.88L855.00 41.88L855.32 41.88L855.64 41.88L855.96 41.88L856.28 41.88L856.61 41.87L856.93 41.87L857.25 41.86L857.57 41.86L857.89 41.85L858.21 41.85L858.53 41.84L858.85 41.84L859.17 41.83L859.49 41.82L859.81 41.82L860.13 41.81L860.45 41.80L860.77 41.80L861.09 41.79L861.41 41.79L861.73 41.78L862.05 41.78L862.37 41.78L862.69 41.78L863.01 41.78L863.33 41.78L863.65 41.78L863.97 41.78L864.29 41.79L864.61 41.79L864.93 41.80L865.25 41.81L865.57 41.82L865.89 41.83L866.21 41.84L866.53 41.85L866.85 41.86L867.17 41.87L867.49 41.89L867.81 41.90L868.13 41.91L868.45 41.93L868.77 41.94L869.09 41.96L869.41 41.97L869.73 41.98L870.05 41.99L870.37 42.00L870.69 42.01L871.01 42.02L871.33 42.03L871.65 42.03L871.97 42.04L872.29 42.04L872.61 42.04L872.93 42.04L873.25 42.04L873.57 42.04L873.89 42.03L874.21 42.02L874.53 42.01L874.85 42.00L875.17 41.99L875.49 41.98L875.81 41.97L876.13 41.96L876.45 41.94L876.77 41.93L877.09 41.91L877.41 41.90L877.73 41.88L878.05 41.87L878.37 41.86L878.69 41.85L879.01 41.84L879.33 41.83L879.65 41.82L879.97 41.81L880.29 41.81L880.61 41.81L880.93 41.81L881.25 41.81L881.57 41.82L881.89 41.83L882.21 41.84L882.53 41.85L882.85 41.87L883.17 41.89L883.49 41.91L883.81 41.93L884.13 41.95L884.45 41.98L884.77 42.01L885.09 42.03L885.41 42.06L885.73 42.09L886.05 42.12L886.37 42.15L886.69 42.18L887.01 42.21L887.33 42.23L887.65 42.26L887.97 42.28L888.29 42.30L888.62 42.32L888.94 42.33L889.26 42.35L889.58 42.36L889.90 42.36L890.22 42.37L890.54 42.37L890.86 42.36L891.18 42.35L891.50 42.34L891.82 42.33L892.14 42.31L892.46 42.29L892.78 42.27L893.10 42.25L893.42 42.22L893.74 42.19L894.06 42.16L894.38 42.13L894.70 42.10L895.02 42.07L895.34 42.04L895.66 42.01L895.98 41.98L896.30 41.96L896.62 41.94L896.94 41.92L897.26 41.90L897.58 41.89L897.90 41.88L898.22 41.87L898.54 41.88L898.86 41.88L899.18 41.89L899.50 41.91L899.82 41.93L900.14 41.95L900.46 41.98L900.78 42.02L901.10 42.06L901.42 42.10L901.74 42.15L902.06 42.20L902.38 42.26L902.70 42.31L903.02 42.37L903.34 42.43L903.66 42.49L903.98 42.55L904.30 42.60L904.62 42.66L904.94 42.71L905.26 42.76L905.58 42.81L905.90 42.85L906.22 42.89L906.54 42.92L906.86 42.95L907.18 42.97L907.50 42.98L907.82 42.99L908.14 42.99L908.46 42.98L908.78 42.97L909.10 42.95L909.42 42.92L909.74 42.89L910.06 42.85L910.38 42.81L910.70 42.76L911.02 42.71L911.34 42.65L911.66 42.59L911.98 42.53L912.30 42.47L912.62 42.41L912.94 42.35L913.26 42.29L913.58 42.23L913.90 42.18L914.22 42.13L914.54 42.09L914.86 42.06L915.18 42.03L915.50 42.01L915.82 42.00L916.14 42.00L916.46 42.00L916.78 42.02L917.10 42.05L917.42 42.09L917.74 42.13L918.06 42.19L918.38 42.25L918.70 42.33L919.02 42.41L919.34 42.50L919.66 42.60L919.98 42.70L920.30 42.81L920.62 42.92L920.95 43.03L921.27 43.14L921.59 43.25L921.91 43.37L922.23 43.47L922.55 43.58L922.87 43.68L923.19 43.77L923.51 43.85L923.83 43.92L924.15 43.99L924.47 44.04L924.79 44.08L925.11 44.11L925.43 44.13L925.75 44.13L926.07 44.12L926.39 44.10L926.71 44.06L927.03 44.01L927.35 43.95L927.67 43.88L927.99 43.80L928.31 43.71L928.63 43.61L928.95 43.50L929.27 43.39L929.59 43.27L929.91 43.15L930.23 43.04L930.55 42.92L930.87 42.81L931.19 42.70L931.51 42.60L931.83 42.50L932.15 42.42L932.47 42.35L932.79 42.30L933.11 42.25L933.43 42.23L933.75 42.22L934.07 42.23L934.39 42.25L934.71 42.30L935.03 42.36L935.35 42.44L935.67 42.54L935.99 42.65L936.31 42.79L936.63 42.94L936.95 43.10L937.27 43.27L937.59 43.46L937.91 43.65L938.23 43.85L938.55 44.05L938.87 44.26L939.19 44.47L939.51 44.67L939.83 44.87L940.15 45.06L940.47 45.24L940.79 45.41L941.11 45.57L941.43 45.71L941.75 45.83L942.07 45.93L942.39 46.01L942.71 46.06L943.03 46.10L943.35 46.11L943.67 46.10L943.99 46.06L944.31 46.00L944.63 45.91L944.95 45.80L945.27 45.68L945.59 45.53L945.91 45.37L946.23 45.19L946.55 45.00L946.87 44.79L947.19 44.58L947.51 44.37L947.83 44.16L948.15 43.94L948.47 43.74L948.79 43.54L949.11 43.35L949.43 43.18L949.75 43.02L950.07 42.89L950.39 42.78L950.71 42.69L951.03 42.63L951.35 42.61L951.67 42.61L951.99 42.65L952.31 42.71L952.63 42.81L952.96 42.95L953.28 43.11L953.60 43.31L953.92 43.53L954.24 43.78L954.56 44.06L954.88 44.36L955.20 44.68L955.52 45.01L955.84 45.36L956.16 45.72L956.48 46.08L956.80 46.44L957.12 46.79L957.44 47.14L957.76 47.48L958.08 47.80L958.40 48.09L958.72 48.37L959.04 48.62L959.36 48.83L959.68 49.01L960.00 49.16L960.32 49.26L960.64 49.33L960.96 49.36L961.28 49.34L961.60 49.28L961.92 49.18L962.24 49.05L962.56 48.87L962.88 48.65L963.20 48.41L963.52 48.13L963.84 47.82L964.16 47.50L964.48 47.15L964.80 46.79L965.12 46.42L965.44 46.05L965.76 45.68L966.08 45.32L966.40 44.97L966.72 44.64L967.04 44.33L967.36 44.06L967.68 43.82L968.00 43.61L968.32 43.45L968.64 43.34L968.96 43.27L969.28 43.26L969.60 43.30L969.92 43.40L970.24 43.55L970.56 43.76L970.88 44.02L971.20 44.33L971.52 44.69L971.84 45.10L972.16 45.55L972.48 46.04L972.80 46.57L973.12 47.12L973.44 47.69L973.76 48.28L974.08 48.87L974.40 49.47L974.72 50.06L975.04 50.64L975.36 51.20L975.68 51.74L976.00 52.24L976.32 52.70L976.64 53.11L976.96 53.48L977.28 53.79L977.60 54.04L977.92 54.23L978.24 54.35L978.56 54.41L978.88 54.39L979.20 54.31L979.52 54.16L979.84 53.95L980.16 53.67L980.48 53.33L980.80 52.93L981.12 52.48L981.44 51.99L981.76 51.46L982.08 50.90L982.40 50.31L982.72 49.71L983.04 49.10L983.36 48.49L983.68 47.89L984.00 47.31L984.32 46.76L984.64 46.25L984.97 45.79L985.29 45.37L985.61 45.02L985.93 44.74L986.25 44.53L986.57 44.40L986.89 44.36L987.21 44.40L987.53 44.52L987.85 44.74L988.17 45.05L988.49 45.44L988.81 45.92L989.13 46.48L989.45 47.11L989.77 47.81L990.09 48.57L990.41 49.39L990.73 50.26L991.05 51.16L991.37 52.08L991.69 53.02L992.01 53.96L992.33 54.90L992.65 55.81L992.97 56.70L993.29 57.55L993.61 58.34L993.93 59.08L994.25 59.74L994.57 60.33L994.89 60.83L995.21 61.24L995.53 61.56L995.85 61.77L996.17 61.87L996.49 61.87L996.81 61.77L997.13 61.55L997.45 61.24L997.77 60.82L998.09 60.31L998.41 59.71L998.73 59.03L999.05 58.28L999.37 57.46L999.69 56.59L1000.01 55.69L1000.33 54.76L1000.65 53.81L1000.97 52.86L1001.29 51.93L1001.61 51.02L1001.93 50.16L1002.25 49.35L1002.57 48.61L1002.89 47.95L1003.21 47.38L1003.53 46.91L1003.85 46.56L1004.17 46.33L1004.49 46.22L1004.81 46.25L1005.13 46.41L1005.45 46.71L1005.77 47.14L1006.09 47.70L1006.41 48.40L1006.73 49.22L1007.05 50.15L1007.37 51.19L1007.69 52.33L1008.01 53.55L1008.33 54.84L1008.65 56.18L1008.97 57.57L1009.29 58.97L1009.61 60.39L1009.93 61.79L1010.25 63.17L1010.57 64.50L1010.89 65.78L1011.21 66.98L1011.53 68.09L1011.85 69.11L1012.17 70.00L1012.49 70.77L1012.81 71.40L1013.13 71.89L1013.45 72.23L1013.77 72.42L1014.09 72.45L1014.41 72.32L1014.73 72.04L1015.05 71.60L1015.37 71.01L1015.69 70.29L1016.01 69.43L1016.33 68.45L1016.65 67.36L1016.98 66.18L1017.30 64.92L1017.62 63.60L1017.94 62.24L1018.26 60.85L1018.58 59.46L1018.90 58.08L1019.22 56.74L1019.54 55.46L1019.86 54.25L1020.18 53.14L1020.50 52.15L1020.82 51.29L1021.14 50.57L1021.46 50.02L1021.78 49.64L1022.10 49.45L1022.42 49.45L1022.74 49.64L1023.06 50.03L1023.38 50.62L1023.70 51.40L1024.02 52.37L1024.34 53.52L1024.66 54.84L1024.98 56.31L1025.30 57.92L1025.62 59.66L1025.94 61.49L1026.26 63.40L1026.58 65.37L1026.90 67.38L1027.22 69.39L1027.54 71.40L1027.86 73.36L1028.18 75.27L1028.50 77.09L1028.82 78.81L1029.14 80.41L1029.46 81.86L1029.78 83.15L1030.10 84.26L1030.42 85.19L1030.74 85.91L1031.06 86.43L1031.38 86.73L1031.70 86.81L1032.02 86.67L1032.34 86.32L1032.66 85.75L1032.98 84.97L1033.30 84.00L1033.62 82.84L1033.94 81.52L1034.26 80.04L1034.58 78.42L1034.90 76.70L1035.22 74.88L1035.54 73.01L1035.86 71.09L1036.18 69.17L1036.50 67.26L1036.82 65.40L1037.14 63.61L1037.46 61.93L1037.78 60.37L1038.10 58.97L1038.42 57.75L1038.74 56.74L1039.06 55.94L1039.38 55.39L1039.70 55.08L1040.02 55.04L1040.34 55.28L1040.66 55.78L1040.98 56.55L1041.30 57.60L1041.62 58.90L1041.94 60.45L1042.26 62.23L1042.58 64.22L1042.90 66.41L1043.22 68.75L1043.54 71.24L1043.86 73.83L1044.18 76.50L1044.50 79.21L1044.82 81.94L1045.14 84.66L1045.46 87.32L1045.78 89.90L1046.10 92.36L1046.42 94.69L1046.74 96.85L1047.06 98.82L1047.38 100.58L1047.70 102.10L1048.02 103.37L1048.34 104.38L1048.66 105.11L1048.99 105.56L1049.31 105.73L1049.63 105.60L1049.95 105.19L1050.27 104.50L1050.59 103.53L1050.91 102.31L1051.23 100.85L1051.55 99.16L1051.87 97.27L1052.19 95.20L1052.51 92.98L1052.83 90.64L1053.15 88.22L1053.47 85.74L1053.79 83.24L1054.11 80.76L1054.43 78.34L1054.75 76.01L1055.07 73.81L1055.39 71.78L1055.71 69.94L1056.03 68.34L1056.35 67.01L1056.67 65.96L1056.99 65.22L1057.31 64.81L1057.63 64.74L1057.95 65.03L1058.27 65.67L1058.59 66.67L1058.91 68.02L1059.23 69.70L1059.55 71.70L1059.87 74.00L1060.19 76.58L1060.51 79.40L1060.83 82.43L1061.15 85.63L1061.47 88.97L1061.79 92.40L1062.11 95.89L1062.43 99.40L1062.75 102.88L1063.07 106.29L1063.39 109.59L1063.71 112.75L1064.03 115.72L1064.35 118.49L1064.67 121.01L1064.99 123.26L1065.31 125.22L1065.63 126.86L1065.95 128.18L1066.27 129.15L1066.59 129.78L1066.91 130.04L1067.23 129.95L1067.55 129.51L1067.87 128.73L1068.19 127.61L1068.51 126.17L1068.83 124.44L1069.15 122.42L1069.47 120.16L1069.79 117.68L1070.11 115.01L1070.43 112.20L1070.75 109.27L1071.07 106.28L1071.39 103.25L1071.71 100.25L1072.03 97.31L1072.35 94.49L1072.67 91.82L1072.99 89.35L1073.31 87.13L1073.63 85.19L1073.95 83.57L1074.27 82.30L1074.59 81.42L1074.91 80.94L1075.23 80.88L1075.55 81.26L1075.87 82.07L1076.19 83.32L1076.51 85.00L1076.83 87.08L1077.15 89.56L1077.47 92.40L1077.79 95.57L1078.11 99.03L1078.43 102.74L1078.75 106.65L1079.07 110.73L1079.39 114.91L1079.71 119.15L1080.03 123.40L1080.35 127.60L1080.67 131.72L1081.00 135.70L1081.32 139.50L1081.64 143.08L1081.96 146.41L1082.28 149.44L1082.60 152.14L1082.92 154.50L1083.24 156.49L1083.56 158.10L1083.88 159.30L1084.20 160.10L1084.52 160.49L1084.84 160.46L1085.16 160.03L1085.48 159.21L1085.80 158.00L1086.12 156.43L1086.44 154.51L1086.76 152.28L1087.08 149.77L1087.40 147.00L1087.72 144.03L1088.04 140.88L1088.36 137.60L1088.68 134.24L1089.00 130.85L1089.32 127.49L1089.64 124.19L1089.96 121.03L1090.28 118.04L1090.60 115.28L1090.92 112.80L1091.24 110.65L1091.56 108.87L1091.88 107.50L1092.20 106.56L1092.52 106.09L1092.84 106.11L1093.16 106.62L1093.48 107.64L1093.80 109.16L1094.12 111.16L1094.44 113.63L1094.76 116.54L1095.08 119.86L1095.40 123.55L1095.72 127.57L1096.04 131.86L1096.36 136.37L1096.68 141.05L1097.00 145.83L1097.32 150.67L1097.64 155.51L1097.96 160.28L1098.28 164.94L1098.60 169.44L1098.92 173.72L1099.24 177.74L1099.56 181.47L1099.88 184.86L1100.20 187.90L1100.52 190.54L1100.84 192.78L1101.16 194.60L1101.48 195.98L1101.80 196.92L1102.12 197.42L1102.44 197.47L1102.76 197.10L1103.08 196.30L1103.40 195.10L1103.72 193.51L1104.04 191.57L1104.36 189.29L1104.68 186.71L1105.00 183.87L1105.32 180.81L1105.64 177.57L1105.96 174.19L1106.28 170.74L1106.60 167.25L1106.92 163.79L1107.24 160.41L1107.56 157.17L1107.88 154.12L1108.20 151.31L1108.52 148.81L1108.84 146.66L1109.16 144.90L1109.48 143.58L1109.80 142.73L1110.12 142.38L1110.44 142.55L1110.76 143.25L1111.08 144.49L1111.40 146.25L1111.72 148.53L1112.04 151.30L1112.36 154.54L1112.68 158.20L1113.01 162.24L1113.33 166.61L1113.65 171.25L1113.97 176.12L1114.29 181.14L1114.61 186.26L1114.93 191.41L1115.25 196.53L1115.57 201.58L1115.89 206.48L1116.21 211.19L1116.53 215.67L1116.85 219.86L1117.17 223.73L1117.49 227.26L1117.81 230.40L1118.13 233.14L1118.45 235.46L1118.77 237.36L1119.09 238.81L1119.41 239.82L1119.73 240.39L1120.05 240.53L1120.37 240.24L1120.69 239.54L1121.01 238.45L1121.33 236.99L1121.65 235.19L1121.97 233.06L1122.29 230.65L1122.61 228.00L1122.93 225.13L1123.25 222.10L1123.57 218.94L1123.89 215.71L1124.21 212.46L1124.53 209.25L1124.85 206.11L1125.17 203.12L1125.49 200.32L1125.81 197.77L1126.13 195.52L1126.45 193.61L1126.77 192.10L1127.09 191.03L1127.41 190.41L1127.73 190.29L1128.05 190.68L1128.37 191.59L1128.69 193.03L1129.01 194.98L1129.33 197.42L1129.65 200.35L1129.97 203.72L1130.29 207.49L1130.61 211.61L1130.93 216.04L1131.25 220.72L1131.57 225.59L1131.89 230.59L1132.21 235.66L1132.53 240.73L1132.85 245.76L1133.17 250.68L1133.49 255.44L1133.81 259.99L1134.13 264.30L1134.45 268.31L1134.77 272.01L1135.09 275.36L1135.41 278.35L1135.73 280.94L1136.05 283.14L1136.37 284.94L1136.69 286.33L1137.01 287.32L1137.33 287.90L1137.65 288.10L1137.97 287.91L1138.29 287.37L1138.61 286.48L1138.93 285.26L1139.25 283.75L1139.57 281.97L1139.89 279.95L1140.21 277.72L1140.53 275.31L1140.85 272.77L1141.17 270.13L1141.49 267.45L1141.81 264.75L1142.13 262.09L1142.45 259.52L1142.77 257.08L1143.09 254.83L1143.41 252.81L1143.73 251.06L1144.05 249.63L1144.37 248.56L1144.69 247.88L1145.02 247.61L1145.34 247.80L1145.66 248.44L1145.98 249.54L1146.30 251.12L1146.62 253.15L1146.94 255.61L1147.26 258.50L1147.58 261.76L1147.90 265.37L1148.22 269.28L1148.54 273.44L1148.86 277.80L1149.18 282.30L1149.50 286.89L1149.82 291.51L1150.14 296.11L1150.46 300.64L1150.78 305.04L1151.10 309.27L1151.42 313.30L1151.74 317.09L1152.06 320.60L1152.38 323.81L1152.70 326.71L1153.02 329.28L1153.34 331.51L1153.66 333.40L1153.98 334.93L1154.30 336.13L1154.62 336.99L1154.94 337.52L1155.26 337.73L1155.58 337.64L1155.90 337.27L1156.22 336.62L1156.54 335.73L1156.86 334.61L1157.18 333.29L1157.50 331.80L1157.82 330.15L1158.14 328.37L1158.46 326.51L1158.78 324.59L1159.10 322.64L1159.42 320.70L1159.74 318.80L1160.06 316.99L1160.38 315.30L1160.70 313.77L1161.02 312.43L1161.34 311.33L1161.66 310.49L1161.98 309.95L1162.30 309.73L1162.62 309.85L1162.94 310.34L1163.26 311.20L1163.58 312.44L1163.90 314.04L1164.22 316.02L1164.54 318.34L1164.86 320.98L1165.18 323.92L1165.50 327.13L1165.82 330.55L1166.14 334.16L1166.46 337.90L1166.78 341.73L1167.10 345.60L1167.42 349.46L1167.74 353.28L1168.06 357.00L1168.38 360.60L1168.70 364.03L1169.02 367.27L1169.34 370.29L1169.66 373.08L1169.98 375.61L1170.30 377.87L1170.62 379.86L1170.94 381.57L1171.26 383.02L1171.58 384.19L1171.90 385.10L1172.22 385.76L1172.54 386.18L1172.86 386.37L1173.18 386.35L1173.50 386.13L1173.82 385.73L1174.14 385.16L1174.46 384.45L1174.78 383.61L1175.10 382.66L1175.42 381.62L1175.74 380.51L1176.06 379.36L1176.38 378.18L1176.70 377.00L1177.03 375.84L1177.35 374.73L1177.67 373.70L1177.99 372.77L1178.31 371.97L1178.63 371.32L1178.95 370.84L1179.27 370.57L1179.59 370.52L1179.91 370.71L1180.23 371.16L1180.55 371.87L1180.87 372.85L1181.19 374.10L1181.51 375.63L1181.83 377.41L1182.15 379.44L1182.47 381.69L1182.79 384.15L1183.11 386.77L1183.43 389.55L1183.75 392.43L1184.07 395.38L1184.39 398.38L1184.71 401.37L1185.03 404.33L1185.35 407.23L1185.67 410.03L1185.99 412.71L1186.31 415.24L1186.63 417.60L1186.95 419.79L1187.27 421.77L1187.59 423.56L1187.91 425.14L1188.23 426.52L1188.55 427.69L1188.87 428.67L1189.19 429.46L1189.51 430.07L1189.83 430.51L1190.15 430.79L1190.47 430.93L1190.79 430.94L1191.11 430.84L1191.43 430.63L1191.75 430.33L1192.07 429.96L1192.39 429.52L1192.71 429.03L1193.03 428.51L1193.35 427.96L1193.67 427.40L1193.99 426.85L1194.31 426.31L1194.63 425.81L1194.95 425.35L1195.27 424.95L1195.59 424.63L1195.91 424.41L1196.23 424.30L1196.55 424.30L1196.87 424.45L1197.19 424.75L1197.51 425.20L1197.83 425.83L1198.15 426.63L1198.47 427.61L1198.79 428.76L1199.11 430.09L1199.43 431.57L1199.75 433.22L1200.07 434.99L1200.39 436.89L1200.71 438.89L1201.03 440.97L1201.35 443.09L1201.67 445.25L1201.99 447.40L1202.31 449.53L1202.63 451.62L1202.95 453.63L1203.27 455.56L1203.59 457.38L1203.91 459.08L1204.23 460.64L1204.55 462.07L1204.87 463.35L1205.19 464.48L1205.51 465.47L1205.83 466.31L1206.15 467.02L1206.47 467.60L1206.79 468.06L1207.11 468.40L1207.43 468.65L1207.75 468.81L1208.07 468.89L1208.39 468.91L1208.71 468.87L1209.04 468.79L1209.36 468.67L1209.68 468.53L1210.00 468.37L1210.32 468.20L1210.64 468.03L1210.96 467.86L1211.28 467.71L1211.60 467.57L1211.92 467.46L1212.24 467.38L1212.56 467.35L1212.88 467.36L1213.20 467.43L1213.52 467.56L1213.84 467.76L1214.16 468.03L1214.48 468.40L1214.80 468.85L1215.12 469.40L1215.44 470.05L1215.76 470.80L1216.08 471.65L1216.40 472.61L1216.72 473.66L1217.04 474.81L1217.36 476.03L1217.68 477.33L1218.00 478.69L1218.32 480.10L1218.64 481.53L1218.96 482.99L1219.28 484.44L1219.60 485.87L1219.92 487.27L1220.24 488.63L1220.56 489.92L1220.88 491.13L1221.20 492.27L1221.52 493.31L1221.84 494.26L1222.16 495.10L1222.48 495.85L1222.80 496.49L1223.12 497.04L1223.44 497.50L1223.76 497.87L1224.08 498.16L1224.40 498.38L1224.72 498.55L1225.04 498.66L1225.36 498.72L1225.68 498.76L1226.00 498.77L1226.32 498.76L1226.64 498.74L1226.96 498.72L1227.28 498.70L1227.60 498.69L1227.92 498.69L1228.24 498.71L1228.56 498.74L1228.88 498.80L1229.20 498.87L1229.52 498.98L1229.84 499.11L1230.16 499.27L1230.48 499.46L1230.80 499.69L1231.12 499.96L1231.44 500.27L1231.76 500.63L1232.08 501.03L1232.40 501.48L1232.72 501.98L1233.04 502.54L1233.36 503.15L1233.68 503.81L1234.00 504.52L1234.32 505.28L1234.64 506.09L1234.96 506.93L1235.28 507.81L1235.60 508.71L1235.92 509.62L1236.24 510.55L1236.56 511.47L1236.88 512.38L1237.20 513.26L1237.52 514.12L1237.84 514.93L1238.16 515.70L1238.48 516.41L1238.80 517.07L1239.12 517.66L1239.44 518.18L1239.76 518.64L1240.08 519.04L1240.40 519.37L1240.72 519.64L1241.05 519.85L1241.37 520.02L1241.69 520.14L1242.01 520.23L1242.33 520.29L1242.65 520.32L1242.97 520.33L1243.29 520.34L1243.61 520.34L1243.93 520.34L1244.25 520.35L1244.57 520.36L1244.89 520.39L1245.21 520.44L1245.53 520.50L1245.85 520.58L1246.17 520.68L1246.49 520.80L1246.81 520.94L1247.13 521.10L1247.45 521.28L1247.77 521.48L1248.09 521.71L1248.41 521.95L1248.73 522.21L1249.05 522.50L1249.37 522.81L1249.69 523.15L1250.01 523.51L1250.33 523.89L1250.65 524.30L1250.97 524.73L1251.29 525.18L1251.61 525.66L1251.93 526.16L1252.25 526.68L1252.57 527.21L1252.89 527.76L1253.21 528.31L1253.53 528.86L1253.85 529.41L1254.17 529.96L1254.49 530.49L1254.81 531.00L1255.13 531.48L1255.45 531.94L1255.77 532.37L1256.09 532.76L1256.41 533.11L1256.73 533.42L1257.05 533.70L1257.37 533.93L1257.69 534.12L1258.01 534.28L1258.33 534.40L1258.65 534.49L1258.97 534.55L1259.29 534.59L1259.61 534.61L1259.93 534.62L1260.25 534.62L1260.57 534.61L1260.89 534.61L1261.21 534.60L1261.53 534.60L1261.85 534.61L1262.17 534.64L1262.49 534.67L1262.81 534.72L1263.13 534.78L1263.45 534.86L1263.77 534.95L1264.09 535.06L1264.41 535.19L1264.73 535.32L1265.05 535.48L1265.37 535.64L1265.69 535.81L1266.01 536.00L1266.33 536.20L1266.65 536.41L1266.97 536.63L1267.29 536.86L1267.61 537.10L1267.93 537.35L1268.25 537.61L1268.57 537.88L1268.89 538.17L1269.21 538.46L1269.53 538.75L1269.85 539.06L1270.17 539.37L1270.49 539.68L1270.81 539.99L1271.13 540.30L1271.45 540.61L1271.77 540.90L1272.09 541.19L1272.41 541.47L1272.74 541.73L1273.06 541.97L1273.38 542.19L1273.70 542.40L1274.02 542.58L1274.34 542.73L1274.66 542.87L1274.98 542.98L1275.30 543.07L1275.62 543.14L1275.94 543.19L1276.26 543.22L1276.58 543.24L1276.90 543.25L1277.22 543.25L1277.54 543.24L1277.86 543.23L1278.18 543.22L1278.50 543.21L1278.82 543.21L1279.14 543.21L1279.46 543.22L1279.78 543.23L1280.10 543.26L1280.42 543.29L1280.74 543.34L1281.06 543.39L1281.38 543.45L1281.70 543.53L1282.02 543.61L1282.34 543.70L1282.66 543.80L1282.98 543.90L1283.30 544.02L1283.62 544.13L1283.94 544.26L1284.26 544.39L1284.58 544.52L1284.90 544.66L1285.22 544.80L1285.54 544.94L1285.86 545.09L1286.18 545.25L1286.50 545.40L1286.82 545.56L1287.14 545.72L1287.46 545.89L1287.78 546.05L1288.10 546.22L1288.42 546.38L1288.74 546.54L1289.06 546.70L1289.38 546.85L1289.70 547.00L1290.02 547.14L1290.34 547.27L1290.66 547.39L1290.98 547.51L1291.30 547.61L1291.62 547.69L1291.94 547.77L1292.26 547.83L1292.58 547.89L1292.90 547.93L1293.22 547.96L1293.54 547.98L1293.86 547.99L1294.18 548.00L1294.50 548.00L1294.82 547.99L1295.14 547.99L1295.46 547.98L1295.78 547.97L1296.10 547.96L1296.42 547.96L1296.74 547.96L1297.06 547.96L1297.38 547.97L1297.70 547.98L1298.02 548.00L1298.34 548.03L1298.66 548.06L1298.98 548.09L1299.30 548.14L1299.62 548.18L1299.94 548.23L1300.26 548.29L1300.58 548.34L1300.90 548.40L1301.22 548.47L1301.54 548.54L1301.86 548.60L1302.18 548.67L1302.50 548.75L1302.82 548.82L1303.14 548.90L1303.46 548.97L1303.78 549.05L1304.10 549.13L1304.42 549.21L1304.74 549.29L1305.07 549.37L1305.39 549.45L1305.71 549.54L1306.03 549.62L1306.35 549.69L1306.67 549.77L1306.99 549.85L1307.31 549.92L1307.63 549.98L1307.95 550.05L1308.27 550.11L1308.59 550.16L1308.91 550.21L1309.23 550.25L1309.55 550.28L1309.87 550.31L1310.19 550.34L1310.51 550.36L1310.83 550.37L1311.15 550.38L1311.47 550.39L1311.79 550.39L1312.11 550.39L1312.43 550.39L1312.75 550.38L1313.07 550.38L1313.39 550.38L1313.71 550.37L1314.03 550.37L1314.35 550.37L1314.67 550.37L1314.99 550.37L1315.31 550.38L1315.63 550.39L1315.95 550.40L1316.27 550.42L1316.59 550.43L1316.91 550.45L1317.23 550.47L1317.55 550.50L1317.87 550.52L1318.19 550.55L1318.51 550.58L1318.83 550.61L1319.15 550.64L1319.47 550.68L1319.79 550.71L1320.11 550.74L1320.43 550.78L1320.75 550.82L1321.07 550.85L1321.39 550.89L1321.71 550.93L1322.03 550.96L1322.35 551.00L1322.67 551.04L1322.99 551.08L1323.31 551.11L1323.63 551.15L1323.95 551.19L1324.27 551.22L1324.59 551.26L1324.91 551.29L1325.23 551.32L1325.55 551.35L1325.87 551.38L1326.19 551.40L1326.51 551.42L1326.83 551.44L1327.15 551.46L1327.47 551.47L1327.79 551.49L1328.11 551.50L1328.43 551.50L1328.75 551.51L1329.07 551.51L1329.39 551.51L1329.71 551.51L1330.03 551.51L1330.35 551.51L1330.67 551.51L1330.99 551.51L1331.31 551.51L1331.63 551.51L1331.95 551.51L1332.27 551.51L1332.59 551.51L1332.91 551.51L1333.23 551.51L1333.55 551.52L1333.87 551.52L1334.19 551.53L1334.51 551.54L1334.83 551.55L1335.15 551.56L1335.47 551.57L1335.79 551.58L1336.11 551.59L1336.43 551.61L1336.76 551.62L1337.08 551.64L1337.40 551.65L1337.72 551.67L1338.04 551.68L1338.36 551.70L1338.68 551.71L1339.00 551.73L1339.32 551.74L1339.64 551.76L1339.96 551.78L1340.28 551.79L1340.60 551.81L1340.92 551.83L1341.24 551.84L1341.56 551.86L1341.88 551.88L1342.20 551.89L1342.52 551.91L1342.84 551.92L1343.16 551.93L1343.48 551.95L1343.80 551.96L1344.12 551.97L1344.44 551.98L1344.76 551.99L1345.08 551.99L1345.40 552.00L1345.72 552.00L1346.04 552.01L1346.36 552.01L1346.68 552.01L1347.00 552.01L1347.32 552.02L1347.64 552.02L1347.96 552.02L1348.28 552.02L1348.60 552.01L1348.92 552.01L1349.24 552.01L1349.56 552.01L1349.88 552.01L1350.20 552.01L1350.52 552.02L1350.84 552.02L1351.16 552.02L1351.48 552.02L1351.80 552.02L1352.12 552.03L1352.44 552.03L1352.76 552.03L1353.08 552.04L1353.40 552.04L1353.72 552.05L1354.04 552.05L1354.36 552.06L1354.68 552.06L1355.00 552.07L1355.32 552.08L1355.64 552.08L1355.96 552.09L1356.28 552.09L1356.60 552.10L1356.92 552.11L1357.24 552.12L1357.56 552.12L1357.88 552.13L1358.20 552.14L1358.52 552.14L1358.84 552.15L1359.16 552.16L1359.48 552.17L1359.80 552.17L1360.12 552.18L1360.44 552.19L1360.76 552.19L1361.08 552.20L1361.40 552.20L1361.72 552.21L1362.04 552.21L1362.36 552.22L1362.68 552.22L1363.00 552.22L1363.32 552.23L1363.64 552.23L1363.96 552.23L1364.28 552.23L1364.60 552.23L1364.92 552.23L1365.24 552.23L1365.56 552.23L1365.88 552.23L1366.20 552.23L1366.52 552.23L1366.84 552.23L1367.16 552.23L1367.48 552.23L1367.80 552.23L1368.12 552.23L1368.44 552.23L1368.76 552.24L1369.09 552.24L1369.41 552.24L1369.73 552.24L1370.05 552.24L1370.37 552.24L1370.69 552.24L1371.01 552.24L1371.33 552.24L1371.65 552.25L1371.97 552.25L1372.29 552.25L1372.61 552.25L1372.93 552.26L1373.25 552.26L1373.57 552.26L1373.89 552.26L1374.21 552.27L1374.53 552.27L1374.85 552.27L1375.17 552.28L1375.49 552.28L1375.81 552.28L1376.13 552.29L1376.45 552.29L1376.77 552.29L1377.09 552.29L1377.41 552.30L1377.73 552.30L1378.05 552.30L1378.37 552.31L1378.69 552.31L1379.01 552.31L1379.33 552.31L1379.65 552.32L1379.97 552.32L1380.29 552.32L1380.61 552.32L1380.93 552.32L1381.25 552.32L1381.57 552.33L1381.89 552.33L1382.21 552.33L1382.53 552.33L1382.85 552.33L1383.17 552.33L1383.49 552.33L1383.81 552.33L1384.13 552.33L1384.45 552.33L1384.77 552.33L1385.09 552.33L1385.41 552.33L1385.73 552.33L1386.05 552.33L1386.37 552.33L1386.69 552.33L1387.01 552.33L1387.33 552.33L1387.65 552.33L1387.97 552.33L1388.29 552.33L1388.61 552.33L1388.93 552.33L1389.25 552.33L1389.57 552.33L1389.89 552.33L1390.21 552.34L1390.53 552.34L1390.85 552.34L1391.17 552.34L1391.49 552.34L1391.81 552.34L1392.13 552.34L1392.45 552.34L1392.77 552.34L1393.09 552.35L1393.41 552.35L1393.73 552.35L1394.05 552.35L1394.37 552.35L1394.69 552.35L1395.01 552.35L1395.33 552.36L1395.65 552.36L1395.97 552.36L1396.29 552.36L1396.61 552.36L1396.93 552.36L1397.25 552.36L1397.57 552.36L1397.89 552.37L1398.21 552.37L1398.53 552.37L1398.85 552.37L1399.17 552.37L1399.49 552.37L1399.81 552.37L1400.13 552.37L1400.45 552.37L1400.78 552.37L1401.10 552.37L1401.42 552.37L1401.74 552.37L1402.06 552.37L1402.38 552.37L1402.70 552.37L1403.02 552.37L1403.34 552.37L1403.66 552.37L1403.98 552.37L1404.30 552.37L1404.62 552.37L1404.94 552.37L1405.26 552.37L1405.58 552.37L1405.90 552.37L1406.22 552.37L1406.54 552.37L1406.86 552.37L1407.18 552.37L1407.50 552.37L1407.82 552.37L1408.14 552.37L1408.46 552.37L1408.78 552.37L1409.10 552.37L1409.42 552.38L1409.74 552.38L1410.06 552.38L1410.38 552.38L1410.70 552.38L1411.02 552.38L1411.34 552.38L1411.66 552.38L1411.98 552.38L1412.30 552.38L1412.62 552.38L1412.94 552.38L1413.26 552.38L1413.58 552.38L1413.90 552.38L1414.22 552.38L1414.54 552.39L1414.86 552.39L1415.18 552.39L1415.50 552.39L1415.82 552.39L1416.14 552.39L1416.46 552.39L1416.78 552.39L1417.10 552.39L1417.42 552.39L1417.74 552.39L1418.06 552.39L1418.38 552.39L1418.70 552.39L1419.02 552.39L1419.34 552.39L1419.66 552.39L1419.98 552.39L1420.30 552.39L1420.62 552.39L1420.94 552.39L1421.26 552.39L1421.58 552.39L1421.90 552.39L1422.22 552.39L1422.54 552.39L1422.86 552.39L1423.18 552.39L1423.50 552.39L1423.82 552.39L1424.14 552.39L1424.46 552.39L1424.78 552.39L1425.10 552.39L1425.42 552.39L1425.74 552.39L1426.06 552.39L1426.38 552.39L1426.70 552.39L1427.02 552.39L1427.34 552.39L1427.66 552.39L1427.98 552.39L1428.30 552.39L1428.62 552.39L1428.94 552.39L1429.26 552.39L1429.58 552.39L1429.90 552.39L1430.22 552.39L1430.54 552.39L1430.86 552.39L1431.18 552.39L1431.50 552.40L1431.82 552.40L1432.14 552.40L1432.46 552.40L1432.78 552.40L1433.11 552.40L1433.43 552.40L1433.75 552.40L1434.07 552.40L1434.39 552.40L1434.71 552.40L1435.03 552.40L1435.35 552.40L1435.67 552.40L1435.99 552.40L1436.31 552.40L1436.63 552.40L1436.95 552.40L1437.27 552.40L1437.59 552.40L1437.91 552.40L1438.23 552.40L1438.55 552.40L1438.87 552.40L1439.19 552.40L1439.51 552.40L1439.83 552.40L1440.15 552.40L1440.47 552.40L1440.79 552.40L1441.11 552.40L1441.43 552.40L1441.75 552.40L1442.07 552.40L1442.39 552.40L1442.71 552.40L1443.03 552.40L1443.35 552.40L1443.67 552.40L1443.99 552.40L1444.31 552.40L1444.63 552.40L1444.95 552.40L1445.27 552.40L1445.59 552.40L1445.91 552.40L1446.23 552.40L1446.55 552.40L1446.87 552.40L1447.19 552.40L1447.51 552.40L1447.83 552.40L1448.15 552.40L1448.47 552.40L1448.79 552.40L1449.11 552.40L1449.43 552.40L1449.75 552.40L1450.07 552.40L1450.39 552.40L1450.71 552.40L1451.03 552.40L1451.35 552.40L1451.67 552.40L1451.99 552.40L1452.31 552.40L1452.63 552.40L1452.95 552.40L1453.27 552.40L1453.59 552.40L1453.91 552.40L1454.23 552.40L1454.55 552.40L1454.87 552.40L1455.19 552.40L1455.51 552.40L1455.83 552.40L1456.15 552.40L1456.47 552.40L1456.79 552.40L1457.11 552.40L1457.43 552.40L1457.75 552.40L1458.07 552.40L1458.39 552.40L1458.71 552.40L1459.03 552.40L1459.35 552.40L1459.67 552.40L1459.99 552.40L1460.31 552.40L1460.63 552.40L1460.95 552.40L1461.27 552.40L1461.59 552.40L1461.91 552.40L1462.23 552.40L1462.55 552.40L1462.87 552.40L1463.19 552.40L1463.51 552.40L1463.83 552.40L1464.15 552.40L1464.47 552.40L1464.80 552.40L1465.12 552.40L1465.44 552.40L1465.76 552.40L1466.08 552.40L1466.40 552.40L1466.72 552.40L1467.04 552.40L1467.36 552.40L1467.68 552.40L1468.00 552.40L1468.32 552.40L1468.64 552.40L1468.96 552.40L1469.28 552.40L1469.60 552.40L1469.92 552.40L1470.24 552.40L1470.56 552.40L1470.88 552.40L1471.20 552.40L1471.52 552.40L1471.84 552.40L1472.16 552.40L1472.48 552.40L1472.80 552.40L1473.12 552.40L1473.44 552.40L1473.76 552.40L1474.08 552.40L1474.40 552.40L1474.72 552.40L1475.04 552.40L1475.36 552.40L1475.68 552.40L1476.00 552.40L1476.32 552.40L1476.64 552.40L1476.96 552.40L1477.28 552.40L1477.60 552.40L1477.92 552.40L1478.24 552.40L1478.56 552.40L1478.88 552.40L1479.20 552.40L1479.52 552.40L1479.84 552.40L1480.16 552.40L1480.48 552.40L1480.80 552.40" stroke="#e69f00"/>
</g>
<rect x="840.6" y="41.75" width="640.1999999999999" height="510.75" fill="none" stroke="#000" stroke-width="2.6"/>
<path d="M840.6 450.35h8.3M1480.8 450.35h-8.3" stroke="#000" stroke-width="2.5" fill="none"/>
<path d="M840.6 348.20h8.3M1480.8 348.20h-8.3" stroke="#000" stroke-width="2.5" fill="none"/>
<path d="M840.6 246.05h8.3M1480.8 246.05h-8.3" stroke="#000" stroke-width="2.5" fill="none"/>
<path d="M840.6 143.90h8.3M1480.8 143.90h-8.3" stroke="#000" stroke-width="2.5" fill="none"/>
<path d="M1160.70 552.5v-8.3" stroke="#000" stroke-width="2.5" fill="none"/>
<text transform="translate(810.80 563.79) scale(1.0000 1.0488)" font-size="30.4">0</text>
<text transform="translate(788.50 461.53) scale(1.0000 1.0437)" font-size="30.4">0.2</text>
<text transform="translate(787.30 359.38) scale(1.0000 1.0437)" font-size="30.4">0.4</text>
<text transform="translate(787.70 257.23) scale(1.0000 1.0437)" font-size="30.4">0.6</text>
<text transform="translate(788.00 155.08) scale(1.0000 1.0437)" font-size="30.4">0.8</text>
<text transform="translate(811.40 52.85) scale(1.0000 1.0149)" font-size="30.4">1</text>
<path d="M812.8 575.6H831.6" stroke="#000" stroke-width="1.3" fill="none"/>
<text transform="translate(834.00 583.89) scale(1.0000 1.0390)" font-size="30.4">10</text>
<text transform="translate(1152.26 585.19) scale(1.0313 1.0488)" font-size="30.4">0</text>
<text transform="translate(1466.00 581.79) scale(1.0000 1.0244)" font-size="30.4">10</text>
<text transform="translate(1105.18 610.40) scale(1.0759 1.0000)" font-size="30.4">time</text>
<text transform="translate(1175.16 612.42) scale(0.6269 1.1667)" font-size="30.4">[</text>
<text transform="translate(1181.47 610.40) scale(1.0512 1.0000)" font-size="30.4">ps</text>
<text transform="translate(1209.95 612.42) scale(0.5882 1.1667)" font-size="30.4">]</text>
<text transform="translate(849.70 22.80) scale(1.0143 1.0000)" font-size="30.4">b</text>
<text transform="translate(866.24 22.95) scale(0.9615 1.1018)" font-size="30.4">)</text>
<text transform="translate(777.30 376.00) rotate(-90) translate(-1.26 0) scale(1.0527 1.0600)" font-size="30.4">Occupation</text>
<path d="M1405.7 278.60H1458.4" stroke="#9400d3" stroke-width="2.5" fill="none"/>
<text transform="translate(1247.93 287.00) scale(1.2273 1.0000)" font-size="30.4" font-style="italic">B</text>
<text transform="translate(1273.17 287.00) scale(1.1707 1.0000)" font-size="30.4" font-style="italic">X</text>
<path d="M1242.00 264.00V294.00" stroke="#000" stroke-width="1.3" fill="none"/>
<path d="M1300.30 264.00L1306.30 279.00L1300.30 294.00" stroke="#000" stroke-width="1.3" fill="none" stroke-linejoin="miter"/>
<text transform="translate(1320.41 286.50) scale(1.1329 1.0000)" font-size="30.4" font-style="italic">ϕ</text>
<path d="M1347.70 275.70h20.4M1347.70 282.10h20.4" stroke="#000" stroke-width="1.3" fill="none"/>
<text transform="translate(1377.21 287.09) scale(1.0781 1.0195)" font-size="30.4">0</text>
<path d="M1405.7 311.00H1458.4" stroke="#009e73" stroke-width="2.5" fill="none"/>
<text transform="translate(1244.53 319.40) scale(1.2273 1.0000)" font-size="30.4" font-style="italic">B</text>
<text transform="translate(1269.77 319.40) scale(1.1707 1.0000)" font-size="30.4" font-style="italic">X</text>
<path d="M1238.60 296.40V326.40" stroke="#000" stroke-width="1.3" fill="none"/>
<path d="M1296.90 296.40L1302.90 311.40L1296.90 326.40" stroke="#000" stroke-width="1.3" fill="none" stroke-linejoin="miter"/>
<text transform="translate(1317.01 318.90) scale(1.1329 1.0000)" font-size="30.4" font-style="italic">ϕ</text>
<path d="M1344.30 308.10h20.4M1344.30 314.50h20.4" stroke="#000" stroke-width="1.3" fill="none"/>
<text transform="translate(1375.49 319.31) scale(1.0318 0.9650)" font-size="30.4" font-style="italic">π</text>
<path d="M1405.7 343.40H1458.4" stroke="#56b4e9" stroke-width="2.5" fill="none"/>
<text transform="translate(1282.63 351.89) scale(1.0547 1.0195)" font-size="30.4">0</text>
<path d="M1279.10 328.80V358.80" stroke="#000" stroke-width="1.3" fill="none"/>
<path d="M1300.10 328.80L1306.10 343.80L1300.10 358.80" stroke="#000" stroke-width="1.3" fill="none" stroke-linejoin="miter"/>
<text transform="translate(1320.41 351.30) scale(1.1329 1.0000)" font-size="30.4" font-style="italic">ϕ</text>
<path d="M1347.70 340.50h20.4M1347.70 346.90h20.4" stroke="#000" stroke-width="1.3" fill="none"/>
<text transform="translate(1377.21 351.89) scale(1.0781 1.0195)" font-size="30.4">0</text>
<path d="M1405.7 375.80H1458.4" stroke="#e69f00" stroke-width="2.5" fill="none"/>
<text transform="translate(1279.23 384.29) scale(1.0547 1.0195)" font-size="30.4">0</text>
<path d="M1275.70 361.20V391.20" stroke="#000" stroke-width="1.3" fill="none"/>
<path d="M1296.70 361.20L1302.70 376.20L1296.70 391.20" stroke="#000" stroke-width="1.3" fill="none" stroke-linejoin="miter"/>
<text transform="translate(1317.01 383.70) scale(1.1329 1.0000)" font-size="30.4" font-style="italic">ϕ</text>
<path d="M1344.30 372.90h20.4M1344.30 379.30h20.4" stroke="#000" stroke-width="1.3" fill="none"/>
<text transform="translate(1375.49 384.11) scale(1.0318 0.9650)" font-size="30.4" font-style="italic">π</text>
</svg></body></html>
